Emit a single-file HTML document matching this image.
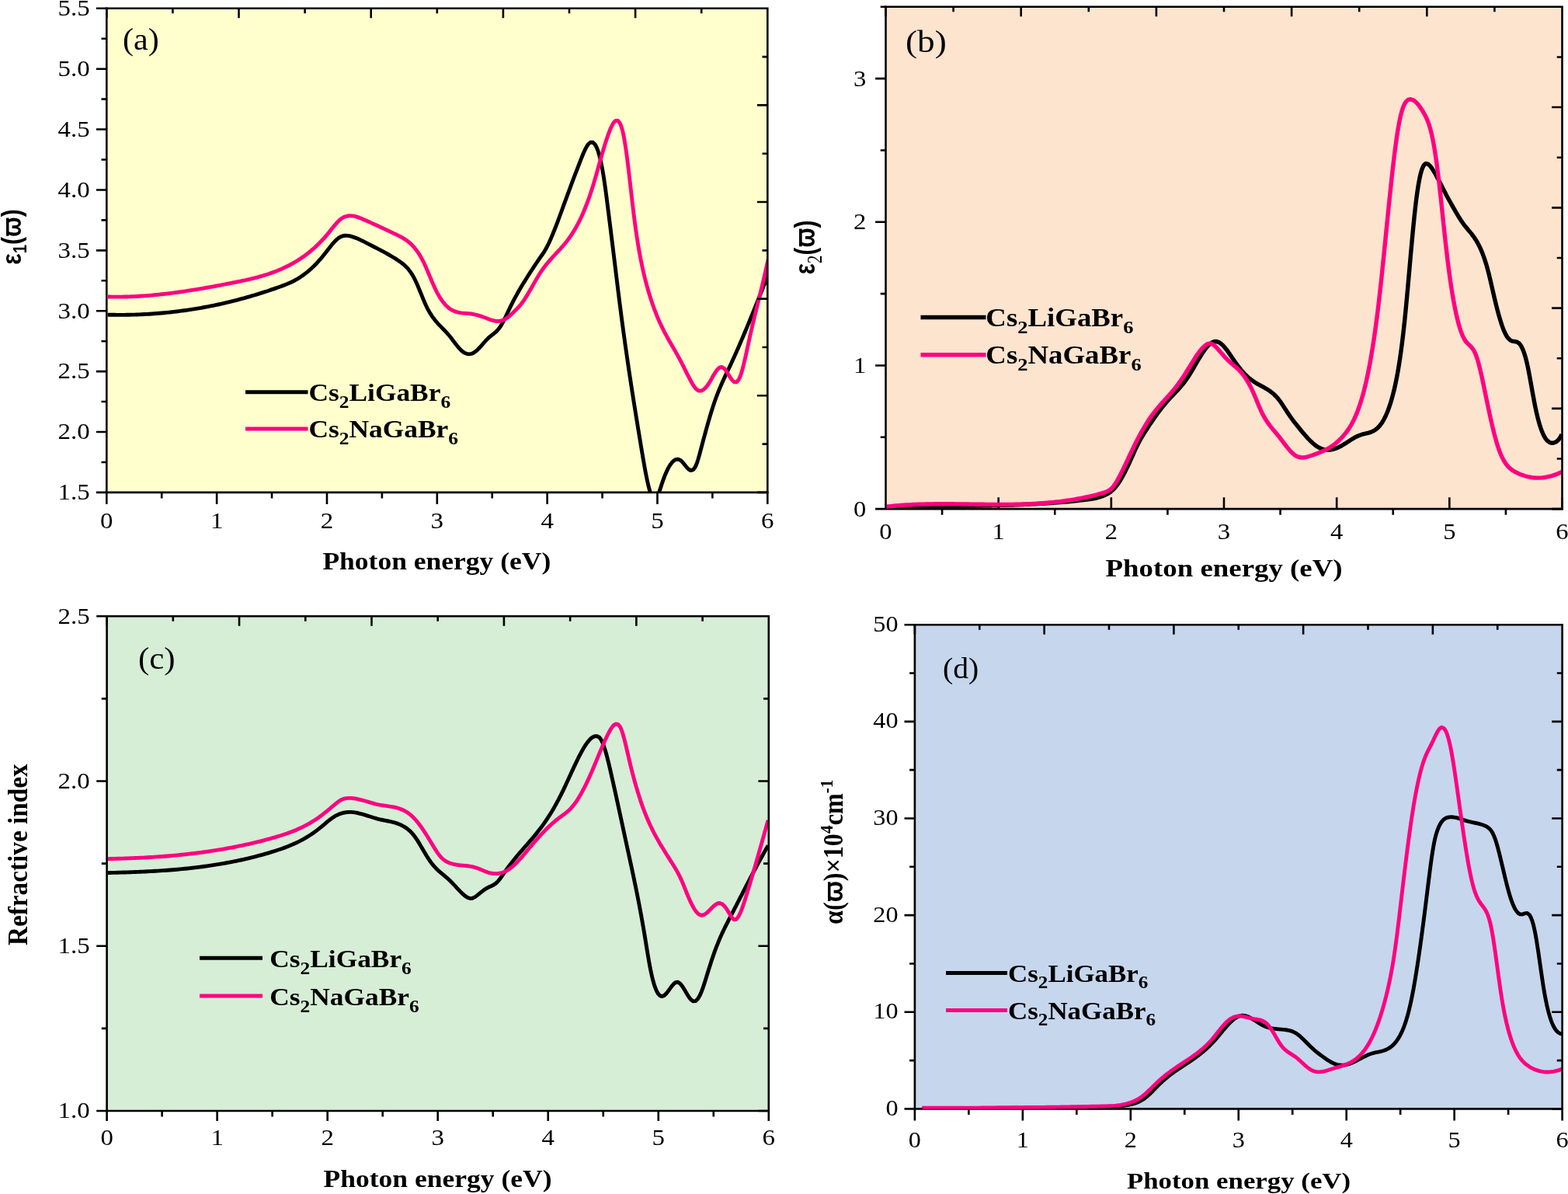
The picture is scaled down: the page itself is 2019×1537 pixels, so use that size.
<!DOCTYPE html>
<html lang="en"><head><meta charset="utf-8"><title>Optical properties</title>
<style>
html,body{margin:0;padding:0;background:#fff;}
body{width:2019px;height:1537px;overflow:hidden;}
svg{display:block;}
text{white-space:pre;fill:#000;}
</style></head><body>
<svg xmlns="http://www.w3.org/2000/svg" width="2019" height="1537" viewBox="0 0 2019 1537">
<rect width="2019" height="1537" fill="#fff"/>
<defs>
<clipPath id="cp_a"><rect x="138.6" y="10.8" width="849.7" height="623.4"/></clipPath>
<clipPath id="cp_b"><rect x="1141.8" y="8.8" width="869.7" height="646.65"/></clipPath>
<clipPath id="cp_c"><rect x="138.9" y="793.2" width="850.9" height="637.1"/></clipPath>
<clipPath id="cp_d"><rect x="1179.2" y="804.2" width="832.4" height="623.5"/></clipPath>
</defs>
<g id="panel-a">
<rect x="137.3" y="10.8" width="851" height="623.1" fill="#FFFFCD"/>
<path d="M137.3,9.5V633.9H989.6M137.3,633.9v15M208.22,633.9v7.5M279.13,633.9v15M350.05,633.9v7.5M420.97,633.9v15M491.88,633.9v7.5M562.8,633.9v15M633.72,633.9v7.5M704.63,633.9v15M775.55,633.9v7.5M846.47,633.9v15M917.38,633.9v7.5M988.3,633.9v15M137.3,633.9h-13.4M137.3,594.96h-6.8M137.3,556.01h-13.4M137.3,517.07h-6.8M137.3,478.12h-13.4M137.3,439.18h-6.8M137.3,400.24h-13.4M137.3,361.29h-6.8M137.3,322.35h-13.4M137.3,283.41h-6.8M137.3,244.46h-13.4M137.3,205.52h-6.8M137.3,166.57h-13.4M137.3,127.63h-6.8M137.3,88.69h-13.4M137.3,49.74h-6.8M137.3,10.8h-13.4" fill="none" stroke="#000" stroke-width="2.6"/>
<g clip-path="url(#cp_a)" fill="none" stroke-width="4.9" stroke-linejoin="round" stroke-linecap="butt">
<path stroke="#000" d="M137.75,405.14L140.95,405.22L144.15,405.28L147.35,405.32L150.55,405.35L153.75,405.36L156.95,405.36L160.15,405.34L163.35,405.3L166.55,405.25L169.75,405.17L172.95,405.09L176.14,404.98L179.34,404.86L182.54,404.72L185.74,404.57L188.93,404.39L192.13,404.2L195.32,404L198.51,403.78L201.7,403.53L204.9,403.28L208.08,403L211.27,402.71L214.46,402.4L217.64,402.08L220.82,401.74L224,401.38L227.18,401L230.36,400.6L233.53,400.19L236.71,399.77L239.88,399.32L243.05,398.86L246.21,398.38L249.37,397.88L252.53,397.37L255.69,396.84L258.84,396.29L262,395.72L265.14,395.14L268.29,394.54L271.43,393.93L274.57,393.3L277.71,392.65L280.84,391.98L283.97,391.3L287.09,390.6L290.21,389.88L293.33,389.15L296.44,388.4L299.55,387.63L302.65,386.85L305.76,386.05L308.85,385.24L311.94,384.41L315.03,383.56L318.12,382.69L321.19,381.81L324.27,380.92L327.34,380L330.4,379.08L333.46,378.13L336.52,377.18L339.57,376.2L342.62,375.21L345.66,374.21L348.7,373.19L351.73,372.16L354.75,371.11L357.77,370.05L360.79,368.97L363.8,367.88L366.8,366.74L369.79,365.55L372.75,364.29L375.67,362.94L378.56,361.49L381.39,359.94L384.17,358.3L386.9,356.57L389.58,354.75L392.19,352.85L394.75,350.87L397.26,348.82L399.7,346.7L402.09,344.51L404.43,342.27L406.71,339.97L408.93,337.62L411.1,335.22L413.23,332.77L415.3,330.29L417.33,327.76L419.31,325.22L421.27,322.68L423.22,320.15L425.18,317.65L427.17,315.19L429.21,312.8L431.34,310.51L433.57,308.37L435.96,306.43L438.55,304.84L441.41,303.75L444.5,303.26L447.7,303.37L450.88,303.95L453.99,304.83L457.04,305.88L460.04,307.06L462.99,308.35L465.91,309.72L468.79,311.14L471.65,312.59L474.49,314.07L477.33,315.54L480.18,317.01L483.02,318.47L485.87,319.93L488.71,321.41L491.55,322.9L494.38,324.41L497.2,325.94L500,327.51L502.78,329.11L505.55,330.75L508.29,332.43L511,334.16L513.68,335.93L516.34,337.78L518.93,339.76L521.41,341.91L523.76,344.24L525.96,346.73L527.99,349.37L529.87,352.12L531.6,354.95L533.21,357.86L534.7,360.82L536.09,363.8L537.42,366.78L538.69,369.77L539.93,372.75L541.15,375.73L542.36,378.7L543.56,381.65L544.77,384.59L546,387.51L547.26,390.4L548.56,393.25L549.92,396.06L551.35,398.82L552.86,401.53L554.47,404.2L556.16,406.8L557.96,409.34L559.86,411.82L561.85,414.23L563.94,416.58L566.09,418.89L568.31,421.16L570.55,423.44L572.8,425.74L575.02,428.09L577.18,430.52L579.27,433.03L581.28,435.59L583.23,438.15L585.16,440.7L587.1,443.22L589.06,445.69L591.09,448.08L593.21,450.33L595.49,452.39L597.97,454.12L600.74,455.34L603.8,455.84L607,455.39L610.07,454.03L612.82,452.07L615.3,449.83L617.59,447.48L619.77,445.06L621.89,442.64L623.99,440.24L626.11,437.9L628.29,435.65L630.58,433.57L633.02,431.62L635.56,429.69L638.1,427.62L640.5,425.29L642.68,422.69L644.61,419.88L646.32,417.02L647.9,414.12L649.39,411.21L650.83,408.3L652.22,405.39L653.59,402.49L654.96,399.6L656.33,396.73L657.72,393.88L659.14,391.05L660.58,388.22L662.06,385.42L663.56,382.62L665.08,379.84L666.64,377.07L668.21,374.31L669.81,371.57L671.43,368.83L673.08,366.1L674.73,363.39L676.41,360.67L678.1,357.97L679.79,355.27L681.5,352.58L683.23,349.89L684.96,347.22L686.71,344.56L688.47,341.9L690.25,339.25L692.04,336.62L693.85,333.99L695.67,331.38L697.51,328.77L699.35,326.1L701.13,323.33L702.81,320.48L704.37,317.57L705.85,314.65L707.26,311.7L708.61,308.73L709.91,305.75L711.18,302.77L712.41,299.78L713.62,296.78L714.8,293.78L715.96,290.77L717.11,287.76L718.25,284.76L719.37,281.75L720.49,278.74L721.6,275.73L722.71,272.73L723.81,269.72L724.92,266.72L726.02,263.71L727.13,260.71L728.23,257.71L729.34,254.71L730.44,251.71L731.55,248.71L732.66,245.71L733.77,242.71L734.88,239.71L735.99,236.72L737.11,233.72L738.23,230.73L739.36,227.74L740.49,224.75L741.62,221.77L742.76,218.78L743.9,215.8L745.05,212.82L746.2,209.85L747.36,206.88L748.53,203.91L749.71,200.97L750.92,198.06L752.16,195.2L753.48,192.39L754.88,189.68L756.43,187.12L758.21,184.83L760.4,183.16L763.33,183.18L766.22,185.99L768.01,189.24L769.35,192.5L770.46,195.76L771.43,199L772.29,202.25L773.08,205.49L773.8,208.72L774.48,211.96L775.12,215.19L775.72,218.42L776.29,221.64L776.85,224.97L777.41,228.45L777.97,232.09L778.53,235.89L779.09,239.82L779.65,243.87L780.21,248.03L780.77,252.28L781.33,256.6L781.89,260.98L782.45,265.4L783.01,269.84L783.57,274.3L784.13,278.75L784.69,283.22L785.25,287.68L785.81,292.16L786.37,296.64L786.93,301.12L787.49,305.62L788.05,310.12L788.61,314.64L789.17,319.17L789.73,323.71L790.29,328.27L790.85,332.84L791.41,337.41L791.97,341.99L792.53,346.58L793.09,351.16L793.65,355.74L794.21,360.31L794.77,364.87L795.33,369.41L795.89,373.93L796.45,378.44L797.01,382.92L797.57,387.37L798.13,391.78L798.69,396.17L799.25,400.51L799.81,404.82L800.37,409.09L800.93,413.33L801.49,417.53L802.05,421.69L802.61,425.83L803.17,429.93L803.73,433.99L804.29,438.03L804.85,442.04L805.41,446.01L805.97,449.96L806.53,453.88L807.09,457.77L807.65,461.63L808.21,465.47L808.77,469.28L809.33,473.07L809.89,476.83L810.45,480.57L811.01,484.28L811.57,487.98L812.13,491.65L812.69,495.3L813.25,498.94L813.81,502.55L814.37,506.15L814.93,509.72L815.49,513.28L816.05,516.83L816.61,520.36L817.17,523.87L817.73,527.37L818.29,530.86L818.85,534.34L819.41,537.8L819.97,541.25L820.53,544.69L821.09,548.13L821.65,551.55L822.21,554.97L822.77,558.37L823.33,561.77L823.89,565.17L824.45,568.56L825.01,571.94L825.57,575.32L826.13,578.69L826.69,582.05L827.25,585.38L827.81,588.68L828.37,591.94L828.93,595.16L829.49,598.33L830.05,601.45L830.62,604.57L831.2,607.68L831.8,610.78L832.41,613.87L833.05,616.94L833.71,620.01L834.4,623.05L835.12,626.07L835.9,629.06L836.73,632L837.64,634.88L838.67,637.64L839.89,640.21L841.47,642.27L843.93,642.37L846.48,638.69L847.89,635.46L849.08,632.31L850.15,629.2L851.18,626.13L852.18,623.09L853.19,620.09L854.22,617.14L855.31,614.21L856.45,611.32L857.66,608.46L858.94,605.64L860.31,602.89L861.8,600.22L863.44,597.67L865.26,595.29L867.35,593.2L869.8,591.64L872.74,591.12L875.93,592.29L878.6,594.69L880.76,597.25L882.75,599.78L884.74,602.16L886.89,604.23L889.4,605.52L892.53,604.63L895.02,601.46L896.6,598.15L897.82,594.86L898.84,591.63L899.75,588.45L900.62,585.31L901.45,582.19L902.27,579.1L903.1,576L903.92,572.91L904.75,569.83L905.57,566.74L906.4,563.65L907.23,560.57L908.07,557.49L908.91,554.42L909.76,551.35L910.61,548.28L911.48,545.21L912.35,542.15L913.23,539.1L914.13,536.05L915.04,533.01L915.96,529.98L916.9,526.95L917.86,523.94L918.85,520.94L919.85,517.95L920.89,514.97L921.96,512.01L923.07,509.05L924.2,506.11L925.37,503.18L926.57,500.26L927.81,497.35L929.07,494.45L930.36,491.56L931.68,488.67L933.02,485.79L934.38,482.91L935.74,480.02L937.12,477.14L938.5,474.24L939.87,471.34L941.23,468.43L942.58,465.51L943.92,462.59L945.25,459.67L946.57,456.74L947.88,453.81L949.18,450.87L950.47,447.93L951.75,444.99L953.02,442.04L954.29,439.1L955.55,436.15L956.81,433.19L958.05,430.24L959.3,427.28L960.53,424.32L961.77,421.36L962.99,418.4L964.22,415.44L965.44,412.48L966.65,409.51L967.86,406.54L969.07,403.58L970.28,400.61L971.48,397.64L972.68,394.67L973.88,391.7L975.08,388.73L976.27,385.76L977.47,382.79L978.66,379.82L979.85,376.85L981.04,373.88L982.23,370.91L983.42,367.94L984.62,364.97L985.81,362L987,359.03L988.19,356.06L989.39,353.1L990.58,350.13L991,349.1"/>
<path stroke="#FF0080" d="M137.75,381.94L140.95,382.02L144.15,382.08L147.35,382.11L150.55,382.13L153.75,382.11L156.95,382.08L160.15,382.02L163.35,381.95L166.55,381.85L169.74,381.73L172.94,381.59L176.14,381.43L179.33,381.25L182.53,381.05L185.72,380.83L188.91,380.59L192.1,380.34L195.29,380.07L198.48,379.78L201.67,379.47L204.85,379.15L208.03,378.81L211.21,378.46L214.39,378.09L217.57,377.71L220.75,377.31L223.92,376.9L227.1,376.48L230.27,376.05L233.44,375.6L236.6,375.14L239.77,374.66L242.93,374.18L246.1,373.69L249.26,373.18L252.42,372.67L255.57,372.14L258.73,371.61L261.88,371.07L265.04,370.51L268.19,369.95L271.34,369.39L274.49,368.81L277.63,368.23L280.78,367.64L283.93,367.05L287.07,366.45L290.21,365.84L293.35,365.23L296.49,364.62L299.63,364L302.77,363.38L305.91,362.74L309.05,362.1L312.18,361.45L315.31,360.78L318.44,360.09L321.56,359.37L324.68,358.63L327.79,357.86L330.89,357.06L333.98,356.22L337.07,355.35L340.14,354.44L343.2,353.48L346.25,352.48L349.28,351.43L352.3,350.34L355.3,349.19L358.28,348L361.24,346.75L364.17,345.45L367.09,344.09L369.98,342.68L372.84,341.22L375.67,339.7L378.48,338.12L381.25,336.49L384,334.8L386.71,333.06L389.38,331.26L392.01,329.4L394.61,327.48L397.16,325.51L399.67,323.49L402.14,321.41L404.57,319.28L406.95,317.09L409.29,314.87L411.58,312.59L413.83,310.27L416.04,307.91L418.21,305.51L420.33,303.08L422.41,300.6L424.45,298.1L426.45,295.59L428.45,293.09L430.45,290.63L432.49,288.23L434.6,285.91L436.8,283.72L439.15,281.74L441.7,280.07L444.5,278.8L447.51,278.01L450.66,277.71L453.86,277.89L457.04,278.46L460.15,279.34L463.2,280.42L466.18,281.64L469.13,282.93L472.05,284.23L474.97,285.54L477.89,286.86L480.81,288.18L483.72,289.51L486.63,290.84L489.54,292.18L492.44,293.53L495.34,294.88L498.24,296.24L501.14,297.61L504.03,298.98L506.92,300.36L509.81,301.74L512.69,303.14L515.56,304.59L518.4,306.15L521.17,307.84L523.86,309.68L526.45,311.69L528.91,313.86L531.25,316.18L533.46,318.63L535.53,321.19L537.49,323.85L539.32,326.58L541.06,329.38L542.69,332.24L544.24,335.14L545.71,338.07L547.1,341.03L548.44,344L549.74,346.96L551,349.93L552.25,352.9L553.49,355.85L554.72,358.8L555.96,361.74L557.21,364.65L558.48,367.55L559.79,370.41L561.14,373.24L562.55,376.03L564.02,378.78L565.58,381.48L567.22,384.12L568.95,386.7L570.8,389.18L572.77,391.56L574.89,393.8L577.17,395.88L579.62,397.74L582.27,399.34L585.09,400.65L588.07,401.64L591.15,402.36L594.29,402.83L597.47,403.14L600.66,403.38L603.85,403.64L607.04,404.02L610.2,404.58L613.34,405.3L616.44,406.16L619.51,407.13L622.54,408.19L625.55,409.31L628.54,410.47L631.53,411.56L634.55,412.51L637.64,413.2L640.79,413.51L643.99,413.3L647.15,412.45L650.14,411.02L652.92,409.21L655.52,407.2L657.98,405.05L660.35,402.83L662.65,400.57L664.92,398.29L667.16,395.94L669.33,393.5L671.41,390.94L673.36,388.29L675.21,385.59L676.98,382.85L678.69,380.09L680.35,377.32L681.98,374.53L683.58,371.74L685.17,368.96L686.75,366.17L688.33,363.4L689.92,360.64L691.53,357.9L693.16,355.19L694.83,352.5L696.55,349.87L698.32,347.27L700.16,344.72L702.06,342.21L704.02,339.74L706.04,337.31L708.11,334.91L710.22,332.54L712.37,330.2L714.54,327.86L716.72,325.53L718.91,323.19L721.09,320.83L723.25,318.43L725.38,316L727.46,313.52L729.49,310.99L731.47,308.42L733.39,305.79L735.24,303.12L737.04,300.4L738.77,297.64L740.45,294.85L742.06,292.03L743.63,289.17L745.13,286.29L746.59,283.38L748,280.45L749.37,277.5L750.69,274.53L751.97,271.54L753.21,268.54L754.42,265.52L755.59,262.5L756.73,259.46L757.84,256.41L758.92,253.35L759.97,250.29L760.99,247.21L761.99,244.13L762.97,241.04L763.92,237.95L764.85,234.86L765.76,231.76L766.66,228.67L767.55,225.58L768.43,222.49L769.31,219.4L770.17,216.31L771.04,213.23L771.9,210.15L772.77,207.08L773.64,204L774.51,200.94L775.39,197.88L776.28,194.82L777.18,191.77L778.09,188.74L779.02,185.71L779.97,182.69L780.94,179.69L781.94,176.71L782.98,173.75L784.06,170.82L785.2,167.92L786.4,165.07L787.68,162.28L789.09,159.63L790.7,157.21L792.68,155.33L795.41,155.15L798.25,158.6L799.71,162.05L800.79,165.42L801.68,168.74L802.45,172.05L803.14,175.34L803.76,178.62L804.34,181.89L804.9,185.3L805.46,188.92L806.02,192.74L806.58,196.73L807.14,200.88L807.7,205.18L808.26,209.6L808.82,214.14L809.38,218.78L809.94,223.49L810.5,228.28L811.06,233.11L811.62,237.97L812.18,242.85L812.74,247.73L813.3,252.6L813.86,257.44L814.42,262.23L814.98,266.96L815.54,271.6L816.1,276.16L816.66,280.6L817.22,284.92L817.78,289.12L818.34,293.2L818.9,297.17L819.46,301.02L820.02,304.77L820.58,308.41L821.14,311.94L821.7,315.38L822.26,318.72L822.82,321.96L823.38,325.11L823.94,328.22L824.53,331.32L825.13,334.42L825.75,337.51L826.38,340.6L827.04,343.68L827.71,346.76L828.41,349.83L829.12,352.9L829.86,355.97L830.62,359.03L831.41,362.08L832.21,365.13L833.04,368.18L833.89,371.22L834.77,374.26L835.66,377.29L836.58,380.31L837.52,383.32L838.49,386.33L839.49,389.32L840.51,392.31L841.57,395.28L842.65,398.24L843.77,401.19L844.92,404.12L846.11,407.05L847.33,409.95L848.58,412.85L849.88,415.72L851.21,418.58L852.57,421.43L853.98,424.26L855.42,427.08L856.89,429.88L858.4,432.67L859.93,435.45L861.49,438.22L863.06,440.99L864.66,443.75L866.26,446.52L867.86,449.29L869.46,452.07L871.05,454.86L872.63,457.67L874.18,460.5L875.71,463.34L877.21,466.21L878.68,469.08L880.13,471.95L881.56,474.83L882.99,477.69L884.41,480.54L885.85,483.38L887.31,486.2L888.79,488.99L890.31,491.75L891.88,494.46L893.52,497.09L895.29,499.53L897.3,501.61L899.78,503L902.83,503.08L905.94,501.52L908.51,499.15L910.67,496.5L912.57,493.74L914.31,490.92L915.94,488.11L917.53,485.31L919.11,482.57L920.73,479.9L922.44,477.35L924.31,475.03L926.48,473.14L929.19,472.38L932.37,474.17L934.66,476.91L936.53,479.71L938.25,482.47L939.91,485.18L941.62,487.75L943.48,490.07L945.66,491.84L948.5,491.91L951.34,488.57L952.85,485.22L954.02,481.97L955.02,478.75L955.94,475.55L956.78,472.37L957.58,469.19L958.35,466.02L959.09,462.86L959.81,459.71L960.51,456.56L961.2,453.41L961.88,450.27L962.56,447.14L963.24,444.01L963.91,440.89L964.59,437.78L965.28,434.67L965.97,431.56L966.67,428.46L967.38,425.36L968.1,422.26L968.83,419.16L969.56,416.05L970.3,412.95L971.04,409.85L971.79,406.75L972.55,403.65L973.3,400.55L974.06,397.45L974.83,394.35L975.59,391.24L976.36,388.13L977.13,385.03L977.89,381.92L978.66,378.81L979.42,375.69L980.18,372.58L980.94,369.46L981.69,366.34L982.44,363.21L983.18,360.09L983.92,356.96L984.65,353.83L985.37,350.7L986.09,347.57L986.8,344.44L987.51,341.31L988.21,338.18L988.91,335.05L989.61,331.93L990.31,328.8L991,325.72"/>
</g>
<path d="M136,10.8H988.3V635.2M137.3,10.8v12.5M222.4,10.8v6.5M307.5,10.8v12.5M392.6,10.8v6.5M477.7,10.8v12.5M562.8,10.8v6.5M647.9,10.8v12.5M733,10.8v6.5M818.1,10.8v12.5M903.2,10.8v6.5M988.3,10.8v12.5M988.3,633.9h-13.4M988.3,571.59h-6.8M988.3,509.28h-13.4M988.3,446.97h-6.8M988.3,384.66h-13.4M988.3,322.35h-6.8M988.3,260.04h-13.4M988.3,197.73h-6.8M988.3,135.42h-13.4M988.3,73.11h-6.8M988.3,10.8h-13.4" fill="none" stroke="#000" stroke-width="2.6"/>
<text transform="translate(115.6,643.2) scale(1.082,1)" font-family="'Liberation Serif', serif" font-size="30.4" text-anchor="end">1.5</text>
<text transform="translate(115.6,565.31) scale(1.082,1)" font-family="'Liberation Serif', serif" font-size="30.4" text-anchor="end">2.0</text>
<text transform="translate(115.6,487.43) scale(1.082,1)" font-family="'Liberation Serif', serif" font-size="30.4" text-anchor="end">2.5</text>
<text transform="translate(115.6,409.54) scale(1.082,1)" font-family="'Liberation Serif', serif" font-size="30.4" text-anchor="end">3.0</text>
<text transform="translate(115.6,331.65) scale(1.082,1)" font-family="'Liberation Serif', serif" font-size="30.4" text-anchor="end">3.5</text>
<text transform="translate(115.6,253.76) scale(1.082,1)" font-family="'Liberation Serif', serif" font-size="30.4" text-anchor="end">4.0</text>
<text transform="translate(115.6,175.87) scale(1.082,1)" font-family="'Liberation Serif', serif" font-size="30.4" text-anchor="end">4.5</text>
<text transform="translate(115.6,97.99) scale(1.082,1)" font-family="'Liberation Serif', serif" font-size="30.4" text-anchor="end">5.0</text>
<text transform="translate(115.6,20.1) scale(1.082,1)" font-family="'Liberation Serif', serif" font-size="30.4" text-anchor="end">5.5</text>
<text transform="translate(137.3,680.3) scale(1.082,1)" font-family="'Liberation Serif', serif" font-size="30.4" text-anchor="middle">0</text>
<text transform="translate(279.13,680.3) scale(1.082,1)" font-family="'Liberation Serif', serif" font-size="30.4" text-anchor="middle">1</text>
<text transform="translate(420.97,680.3) scale(1.082,1)" font-family="'Liberation Serif', serif" font-size="30.4" text-anchor="middle">2</text>
<text transform="translate(562.8,680.3) scale(1.082,1)" font-family="'Liberation Serif', serif" font-size="30.4" text-anchor="middle">3</text>
<text transform="translate(704.63,680.3) scale(1.082,1)" font-family="'Liberation Serif', serif" font-size="30.4" text-anchor="middle">4</text>
<text transform="translate(846.47,680.3) scale(1.082,1)" font-family="'Liberation Serif', serif" font-size="30.4" text-anchor="middle">5</text>
<text transform="translate(988.3,680.3) scale(1.082,1)" font-family="'Liberation Serif', serif" font-size="30.4" text-anchor="middle">6</text>
<text transform="translate(415.4,732.75) scale(1.1455,1)" font-family="'Liberation Serif', serif" font-size="31" font-weight="bold">Photon energy (eV)</text>
<text transform="translate(158,64) scale(1.07,1)" font-family="'Liberation Serif', serif" font-size="39.4">(a)</text>
<path d="M316,504.75H396.5" stroke="#000" stroke-width="5" fill="none"/>
<path d="M316,552H396.5" stroke="#FF0080" stroke-width="5" fill="none"/>
<text transform="translate(397.5,515.9) scale(1.105,1)" font-family="'Liberation Serif', serif" font-size="32" font-weight="bold">Cs<tspan dy="8.96" font-size="23.04">2</tspan><tspan dy="-8.96">LiGaBr</tspan><tspan dy="8.96" font-size="23.04">6</tspan></text>
<text transform="translate(397.5,563.2) scale(1.105,1)" font-family="'Liberation Serif', serif" font-size="32" font-weight="bold">Cs<tspan dy="8.96" font-size="23.04">2</tspan><tspan dy="-8.96">NaGaBr</tspan><tspan dy="8.96" font-size="23.04">6</tspan></text>
<text transform="translate(27,340.75) rotate(-90) scale(0.848,1)" font-family="'Liberation Sans', sans-serif" font-size="35.8" font-weight="bold">ε<tspan dy="7" font-size="24">1</tspan><tspan dy="-7">(ϖ)</tspan></text>
</g>
<g id="panel-b">
<rect x="1140.5" y="8.8" width="871" height="646.35" fill="#FDE4CF"/>
<path d="M1140.5,7.5V655.15H2012.8M1140.5,655.15v-15M1213.08,655.15v7.5M1285.67,655.15v-15M1358.25,655.15v7.5M1430.83,655.15v-15M1503.42,655.15v7.5M1576,655.15v-15M1648.58,655.15v7.5M1721.17,655.15v-15M1793.75,655.15v7.5M1866.33,655.15v-15M1938.92,655.15v7.5M2011.5,655.15v-15M1140.5,655.15h-13.4M1140.5,562.81h-6.8M1140.5,470.48h-13.4M1140.5,378.14h-6.8M1140.5,285.81h-13.4M1140.5,193.48h-6.8M1140.5,101.14h-13.4M1140.5,8.81h-6.8" fill="none" stroke="#000" stroke-width="2.6"/>
<g clip-path="url(#cp_b)" fill="none" stroke-width="5.4" stroke-linejoin="round" stroke-linecap="butt">
<path stroke="#000" d="M1141,653L1144.2,652.9L1147.4,652.8L1150.6,652.7L1153.79,652.61L1156.99,652.53L1160.19,652.45L1163.39,652.37L1166.59,652.3L1169.79,652.23L1172.99,652.17L1176.19,652.11L1179.39,652.05L1182.59,652L1185.79,651.95L1188.99,651.9L1192.19,651.85L1195.39,651.81L1198.58,651.76L1201.78,651.72L1204.98,651.68L1208.18,651.64L1211.38,651.61L1214.58,651.57L1217.78,651.53L1220.98,651.5L1224.18,651.46L1227.38,651.42L1230.58,651.39L1233.78,651.35L1236.98,651.31L1240.18,651.27L1243.38,651.23L1246.58,651.19L1249.78,651.15L1252.98,651.1L1256.18,651.06L1259.38,651.01L1262.58,650.96L1265.78,650.9L1268.98,650.84L1272.18,650.78L1275.38,650.72L1278.58,650.65L1281.78,650.58L1284.98,650.5L1288.17,650.42L1291.37,650.34L1294.57,650.25L1297.77,650.15L1300.97,650.05L1304.17,649.94L1307.37,649.83L1310.56,649.72L1313.76,649.59L1316.96,649.46L1320.16,649.33L1323.35,649.19L1326.55,649.04L1329.75,648.88L1332.94,648.72L1336.14,648.54L1339.33,648.37L1342.53,648.18L1345.72,647.98L1348.92,647.78L1352.11,647.56L1355.3,647.34L1358.49,647.11L1361.69,646.87L1364.88,646.62L1368.07,646.36L1371.25,646.09L1374.44,645.81L1377.63,645.51L1380.81,645.2L1384,644.87L1387.18,644.54L1390.36,644.18L1393.54,643.81L1396.72,643.42L1399.89,643.01L1403.07,642.58L1406.24,642.1L1409.39,641.53L1412.53,640.84L1415.64,640.01L1418.71,639.01L1421.72,637.82L1424.66,636.43L1427.5,634.81L1430.21,632.93L1432.75,630.79L1435.1,628.42L1437.26,625.87L1439.24,623.21L1441.09,620.48L1442.83,617.7L1444.49,614.88L1446.08,612.03L1447.61,609.16L1449.1,606.28L1450.54,603.38L1451.95,600.46L1453.33,597.54L1454.68,594.61L1456.01,591.68L1457.33,588.75L1458.63,585.82L1459.94,582.91L1461.25,580.01L1462.57,577.13L1463.93,574.27L1465.32,571.45L1466.76,568.67L1468.27,565.92L1469.83,563.2L1471.45,560.49L1473.12,557.81L1474.83,555.13L1476.56,552.46L1478.31,549.79L1480.07,547.13L1481.84,544.49L1483.63,541.86L1485.44,539.24L1487.27,536.63L1489.12,534.05L1491,531.48L1492.9,528.93L1494.82,526.41L1496.78,523.91L1498.77,521.45L1500.8,519.01L1502.87,516.61L1504.98,514.25L1507.13,511.92L1509.32,509.6L1511.53,507.29L1513.74,504.97L1515.94,502.63L1518.12,500.25L1520.26,497.82L1522.35,495.34L1524.38,492.8L1526.34,490.2L1528.23,487.54L1530.05,484.82L1531.8,482.08L1533.49,479.32L1535.15,476.55L1536.77,473.77L1538.38,470.99L1539.99,468.22L1541.59,465.46L1543.2,462.72L1544.84,460L1546.5,457.31L1548.2,454.66L1549.96,452.06L1551.79,449.53L1553.72,447.1L1555.77,444.81L1558,442.72L1560.45,440.97L1563.21,439.77L1566.3,439.56L1569.47,440.6L1572.32,442.5L1574.81,444.79L1577.04,447.26L1579.1,449.84L1581.05,452.46L1582.92,455.11L1584.75,457.77L1586.55,460.42L1588.34,463.06L1590.15,465.67L1591.99,468.25L1593.87,470.79L1595.79,473.3L1597.76,475.76L1599.79,478.17L1601.89,480.51L1604.07,482.77L1606.33,484.93L1608.7,486.98L1611.16,488.93L1613.72,490.77L1616.36,492.5L1619.07,494.13L1621.84,495.68L1624.65,497.18L1627.48,498.7L1630.29,500.28L1633.05,501.97L1635.74,503.8L1638.34,505.8L1640.81,507.97L1643.14,510.3L1645.33,512.78L1647.39,515.37L1649.32,518.02L1651.15,520.71L1652.93,523.41L1654.67,526.11L1656.41,528.8L1658.15,531.46L1659.91,534.08L1661.72,536.68L1663.57,539.24L1665.47,541.78L1667.4,544.3L1669.36,546.79L1671.36,549.27L1673.37,551.74L1675.4,554.21L1677.44,556.66L1679.5,559.08L1681.58,561.47L1683.7,563.83L1685.87,566.12L1688.1,568.35L1690.4,570.49L1692.79,572.51L1695.29,574.37L1697.92,576.03L1700.71,577.4L1703.66,578.42L1706.74,579.05L1709.92,579.25L1713.12,579.03L1716.29,578.43L1719.39,577.5L1722.41,576.29L1725.34,574.88L1728.18,573.31L1730.94,571.65L1733.66,569.93L1736.36,568.19L1739.05,566.47L1741.75,564.8L1744.49,563.21L1747.29,561.75L1750.17,560.47L1753.14,559.44L1756.21,558.63L1759.32,557.9L1762.44,557.11L1765.51,556.09L1768.5,554.73L1771.32,552.96L1773.91,550.81L1776.25,548.37L1778.33,545.71L1780.21,542.91L1781.89,540.01L1783.43,537.04L1784.84,534.02L1786.14,530.97L1787.35,527.89L1788.48,524.79L1789.54,521.67L1790.55,518.55L1791.5,515.41L1792.41,512.26L1793.27,509.1L1794.1,505.93L1794.89,502.75L1795.64,499.57L1796.36,496.38L1797.05,493.18L1797.71,489.99L1798.35,486.79L1798.96,483.58L1799.55,480.38L1800.11,477.17L1800.67,473.9L1801.23,470.5L1801.79,466.99L1802.35,463.35L1802.91,459.59L1803.47,455.69L1804.03,451.66L1804.59,447.49L1805.15,443.18L1805.71,438.73L1806.27,434.12L1806.83,429.36L1807.39,424.45L1807.95,419.38L1808.51,414.15L1809.07,408.75L1809.63,403.18L1810.19,397.46L1810.75,391.61L1811.31,385.64L1811.87,379.57L1812.43,373.42L1812.99,367.19L1813.55,360.92L1814.11,354.6L1814.67,348.27L1815.23,341.94L1815.79,335.62L1816.35,329.33L1816.91,323.08L1817.47,316.9L1818.03,310.79L1818.59,304.77L1819.15,298.85L1819.71,293.06L1820.27,287.39L1820.83,281.87L1821.39,276.51L1821.95,271.33L1822.51,266.34L1823.07,261.54L1823.63,256.97L1824.19,252.63L1824.75,248.52L1825.31,244.66L1825.87,241.02L1826.43,237.61L1826.99,234.43L1827.57,231.4L1828.18,228.39L1828.85,225.41L1829.59,222.47L1830.42,219.6L1831.37,216.83L1832.51,214.22L1833.97,211.94L1836.02,210.46L1839.11,211.27L1841.69,213.89L1843.69,216.61L1845.5,219.39L1847.2,222.2L1848.81,225.04L1850.36,227.89L1851.87,230.75L1853.34,233.62L1854.8,236.48L1856.25,239.34L1857.7,242.18L1859.15,245.01L1860.63,247.83L1862.12,250.64L1863.63,253.43L1865.16,256.23L1866.71,259.01L1868.27,261.79L1869.84,264.57L1871.42,267.35L1873,270.12L1874.59,272.88L1876.2,275.62L1877.83,278.34L1879.49,281.03L1881.2,283.68L1882.96,286.28L1884.79,288.81L1886.71,291.29L1888.71,293.74L1890.75,296.18L1892.81,298.64L1894.85,301.15L1896.84,303.74L1898.74,306.42L1900.55,309.17L1902.25,312.01L1903.84,314.92L1905.32,317.88L1906.7,320.88L1908,323.92L1909.21,326.99L1910.36,330.08L1911.44,333.18L1912.46,336.3L1913.44,339.43L1914.37,342.57L1915.25,345.72L1916.1,348.87L1916.92,352.03L1917.7,355.19L1918.46,358.34L1919.2,361.48L1919.93,364.62L1920.65,367.75L1921.36,370.88L1922.08,374L1922.79,377.11L1923.5,380.22L1924.22,383.31L1924.96,386.4L1925.7,389.49L1926.46,392.56L1927.23,395.63L1928.02,398.69L1928.83,401.75L1929.66,404.79L1930.52,407.82L1931.4,410.83L1932.32,413.83L1933.28,416.8L1934.29,419.75L1935.35,422.66L1936.49,425.52L1937.72,428.31L1939.08,431L1940.62,433.54L1942.4,435.86L1944.54,437.81L1947.15,439.07L1950.23,439.53L1953.42,440.17L1956.4,442.27L1958.59,445.27L1960.21,448.43L1961.54,451.63L1962.68,454.84L1963.69,458.06L1964.59,461.28L1965.43,464.5L1966.2,467.72L1966.92,470.94L1967.59,474.15L1968.24,477.35L1968.86,480.54L1969.46,483.72L1970.05,486.9L1970.63,490.07L1971.2,493.23L1971.77,496.39L1972.33,499.55L1972.89,502.69L1973.46,505.83L1974.02,508.97L1974.6,512.09L1975.18,515.21L1975.77,518.32L1976.38,521.41L1977,524.49L1977.65,527.56L1978.33,530.62L1979.03,533.67L1979.77,536.71L1980.54,539.74L1981.35,542.74L1982.21,545.72L1983.12,548.68L1984.1,551.61L1985.15,554.49L1986.29,557.32L1987.55,560.07L1988.97,562.7L1990.59,565.18L1992.49,567.4L1994.77,569.18L1997.53,570.2L2000.68,570.1L2003.81,568.79L2006.49,566.42L2008.61,563.55L2010.32,560.5L2011,559.1"/>
<path stroke="#FF0080" d="M1141.25,652.25L1144.43,651.9L1147.61,651.58L1150.8,651.27L1153.98,650.98L1157.17,650.72L1160.36,650.48L1163.55,650.25L1166.74,650.05L1169.94,649.86L1173.13,649.69L1176.33,649.54L1179.53,649.4L1182.72,649.28L1185.92,649.17L1189.12,649.08L1192.32,649L1195.52,648.93L1198.72,648.88L1201.92,648.84L1205.12,648.81L1208.32,648.78L1211.52,648.77L1214.72,648.77L1217.92,648.77L1221.12,648.78L1224.32,648.8L1227.52,648.82L1230.72,648.85L1233.92,648.88L1237.12,648.92L1240.32,648.96L1243.52,649L1246.72,649.05L1249.91,649.09L1253.11,649.14L1256.31,649.18L1259.51,649.23L1262.71,649.27L1265.91,649.31L1269.11,649.34L1272.31,649.38L1275.51,649.4L1278.71,649.43L1281.91,649.44L1285.11,649.45L1288.31,649.46L1291.51,649.45L1294.71,649.44L1297.91,649.42L1301.11,649.38L1304.31,649.34L1307.51,649.29L1310.71,649.22L1313.91,649.14L1317.11,649.04L1320.31,648.94L1323.51,648.81L1326.7,648.68L1329.9,648.52L1333.1,648.35L1336.29,648.16L1339.48,647.96L1342.68,647.73L1345.87,647.48L1349.06,647.22L1352.25,646.93L1355.43,646.62L1358.62,646.29L1361.8,645.94L1364.98,645.57L1368.15,645.17L1371.33,644.74L1374.5,644.29L1377.66,643.82L1380.83,643.32L1383.99,642.79L1387.14,642.24L1390.29,641.65L1393.43,641.04L1396.57,640.4L1399.7,639.74L1402.83,639.04L1405.95,638.31L1409.06,637.56L1412.17,636.77L1415.27,635.95L1418.36,635.1L1421.44,634.22L1424.5,633.16L1427.47,631.7L1430.22,629.73L1432.66,627.31L1434.76,624.63L1436.63,621.85L1438.34,619.03L1439.95,616.17L1441.49,613.3L1442.98,610.43L1444.43,607.54L1445.86,604.65L1447.27,601.76L1448.66,598.86L1450.04,595.96L1451.41,593.06L1452.77,590.16L1454.13,587.26L1455.49,584.37L1456.86,581.48L1458.23,578.6L1459.61,575.73L1461,572.87L1462.41,570.02L1463.84,567.19L1465.3,564.37L1466.78,561.57L1468.28,558.77L1469.82,556L1471.38,553.24L1472.98,550.51L1474.6,547.79L1476.26,545.1L1477.96,542.43L1479.7,539.79L1481.48,537.18L1483.31,534.6L1485.18,532.06L1487.11,529.56L1489.09,527.09L1491.11,524.65L1493.18,522.25L1495.28,519.86L1497.41,517.49L1499.55,515.13L1501.71,512.77L1503.86,510.39L1506.01,508L1508.13,505.57L1510.22,503.12L1512.28,500.62L1514.29,498.08L1516.26,495.51L1518.17,492.9L1520.04,490.26L1521.88,487.6L1523.68,484.92L1525.45,482.22L1527.19,479.51L1528.9,476.78L1530.6,474.05L1532.27,471.31L1533.94,468.58L1535.62,465.87L1537.3,463.17L1539.01,460.5L1540.75,457.86L1542.54,455.27L1544.39,452.74L1546.32,450.3L1548.36,447.97L1550.54,445.81L1552.92,443.91L1555.56,442.5L1558.56,442.09L1561.74,443.32L1564.45,445.46L1566.8,447.82L1568.98,450.23L1571.1,452.66L1573.2,455.08L1575.29,457.49L1577.4,459.86L1579.55,462.16L1581.77,464.37L1584.09,466.48L1586.51,468.52L1588.97,470.56L1591.43,472.64L1593.85,474.83L1596.16,477.16L1598.36,479.61L1600.43,482.16L1602.4,484.8L1604.25,487.52L1606.01,490.3L1607.68,493.12L1609.26,496L1610.77,498.91L1612.2,501.85L1613.58,504.82L1614.89,507.81L1616.16,510.8L1617.39,513.78L1618.6,516.75L1619.81,519.7L1621.03,522.63L1622.28,525.53L1623.55,528.4L1624.88,531.22L1626.29,533.99L1627.78,536.72L1629.35,539.41L1631.01,542.04L1632.77,544.62L1634.61,547.15L1636.54,549.63L1638.53,552.08L1640.58,554.51L1642.65,556.94L1644.72,559.4L1646.77,561.91L1648.77,564.46L1650.72,567.02L1652.65,569.58L1654.57,572.13L1656.51,574.64L1658.49,577.11L1660.51,579.5L1662.62,581.8L1664.85,583.95L1667.23,585.88L1669.83,587.46L1672.7,588.54L1675.8,589.03L1678.99,588.93L1682.17,588.38L1685.29,587.52L1688.35,586.52L1691.37,585.48L1694.4,584.4L1697.4,583.28L1700.39,582.09L1703.35,580.81L1706.26,579.42L1709.12,577.92L1711.93,576.29L1714.66,574.54L1717.31,572.67L1719.88,570.67L1722.36,568.55L1724.75,566.33L1727.05,564.01L1729.25,561.6L1731.37,559.12L1733.41,556.56L1735.35,553.92L1737.2,551.19L1738.95,548.4L1740.59,545.55L1742.15,542.64L1743.61,539.69L1744.99,536.7L1746.29,533.68L1747.53,530.63L1748.7,527.57L1749.81,524.49L1750.87,521.39L1751.89,518.28L1752.86,515.16L1753.79,512.03L1754.69,508.89L1755.55,505.75L1756.38,502.6L1757.18,499.44L1757.95,496.28L1758.7,493.12L1759.43,489.95L1760.13,486.78L1760.81,483.6L1761.47,480.42L1762.11,477.25L1762.74,474.06L1763.35,470.88L1763.95,467.7L1764.53,464.51L1765.09,461.32L1765.65,458.1L1766.21,454.8L1766.77,451.43L1767.33,447.97L1767.89,444.44L1768.45,440.83L1769.01,437.13L1769.57,433.35L1770.13,429.49L1770.69,425.54L1771.25,421.51L1771.81,417.38L1772.37,413.17L1772.93,408.87L1773.49,404.48L1774.05,399.99L1774.61,395.41L1775.17,390.74L1775.73,385.97L1776.29,381.1L1776.85,376.14L1777.41,371.1L1777.97,365.98L1778.53,360.78L1779.09,355.51L1779.65,350.19L1780.21,344.81L1780.77,339.38L1781.33,333.9L1781.89,328.39L1782.45,322.85L1783.01,317.28L1783.57,311.69L1784.13,306.09L1784.69,300.48L1785.25,294.87L1785.81,289.27L1786.37,283.67L1786.93,278.09L1787.49,272.54L1788.05,267.01L1788.61,261.52L1789.17,256.07L1789.73,250.66L1790.29,245.31L1790.85,240.01L1791.41,234.78L1791.97,229.63L1792.53,224.54L1793.09,219.54L1793.65,214.63L1794.21,209.82L1794.77,205.1L1795.33,200.49L1795.89,196L1796.45,191.62L1797.01,187.37L1797.57,183.25L1798.13,179.26L1798.69,175.42L1799.25,171.73L1799.81,168.19L1800.37,164.81L1800.93,161.6L1801.5,158.54L1802.1,155.49L1802.73,152.47L1803.41,149.47L1804.15,146.49L1804.96,143.55L1805.84,140.66L1806.84,137.83L1807.98,135.11L1809.32,132.54L1810.96,130.25L1813.08,128.47L1815.87,127.75L1819.07,128.51L1821.98,130.37L1824.46,132.72L1826.64,135.28L1828.62,137.96L1830.45,140.7L1832.18,143.49L1833.83,146.3L1835.42,149.21L1836.88,152.24L1838.21,155.34L1839.4,158.5L1840.46,161.7L1841.42,164.92L1842.3,168.15L1843.1,171.38L1843.84,174.61L1844.52,177.84L1845.17,181.07L1845.78,184.29L1846.37,187.52L1846.93,190.76L1847.49,194.15L1848.05,197.68L1848.61,201.36L1849.17,205.18L1849.73,209.14L1850.29,213.26L1850.85,217.52L1851.41,221.92L1851.97,226.48L1852.53,231.16L1853.09,235.96L1853.65,240.87L1854.21,245.87L1854.77,250.95L1855.33,256.1L1855.89,261.3L1856.45,266.55L1857.01,271.83L1857.57,277.12L1858.13,282.42L1858.69,287.71L1859.25,292.98L1859.81,298.21L1860.37,303.4L1860.93,308.53L1861.49,313.58L1862.05,318.55L1862.61,323.43L1863.17,328.19L1863.73,332.84L1864.29,337.38L1864.85,341.81L1865.41,346.13L1865.97,350.34L1866.53,354.44L1867.09,358.44L1867.65,362.33L1868.21,366.11L1868.77,369.79L1869.33,373.37L1869.89,376.84L1870.45,380.21L1871.01,383.49L1871.57,386.66L1872.13,389.76L1872.71,392.85L1873.31,395.94L1873.94,399.02L1874.58,402.09L1875.25,405.16L1875.95,408.21L1876.68,411.25L1877.45,414.27L1878.26,417.28L1879.11,420.26L1880.02,423.22L1881,426.14L1882.05,429.02L1883.2,431.84L1884.47,434.58L1885.9,437.2L1887.54,439.63L1889.49,441.88L1891.71,444.02L1894.07,446.28L1896.28,448.93L1898.15,451.92L1899.68,455.09L1900.95,458.32L1902.03,461.54L1903,464.73L1903.89,467.92L1904.73,471.1L1905.52,474.27L1906.28,477.44L1907.01,480.6L1907.73,483.76L1908.42,486.92L1909.1,490.08L1909.77,493.23L1910.43,496.38L1911.09,499.52L1911.74,502.67L1912.38,505.8L1913.03,508.94L1913.67,512.07L1914.32,515.2L1914.97,518.32L1915.62,521.44L1916.28,524.56L1916.95,527.68L1917.62,530.79L1918.29,533.9L1918.98,537L1919.67,540.1L1920.38,543.2L1921.09,546.29L1921.82,549.37L1922.56,552.45L1923.32,555.52L1924.1,558.58L1924.9,561.63L1925.72,564.67L1926.57,567.69L1927.46,570.7L1928.38,573.68L1929.35,576.63L1930.38,579.56L1931.48,582.45L1932.65,585.31L1933.91,588.12L1935.28,590.86L1936.76,593.53L1938.39,596.11L1940.18,598.56L1942.17,600.86L1944.37,602.97L1946.79,604.87L1949.4,606.54L1952.16,608.04L1955.01,609.42L1957.92,610.68L1960.89,611.79L1963.91,612.76L1966.98,613.57L1970.1,614.22L1973.24,614.7L1976.42,615.01L1979.61,615.15L1982.81,615.1L1986.01,614.89L1989.19,614.5L1992.36,613.95L1995.5,613.25L1998.6,612.39L2001.67,611.4L2004.69,610.27L2007.67,609.03L2010.59,607.67L2011,607.47"/>
</g>
<path d="M1139.2,8.8H2011.5V656.45M1140.5,8.8v12.5M1227.6,8.8v6.5M1314.7,8.8v12.5M1401.8,8.8v6.5M1488.9,8.8v12.5M1576,8.8v6.5M1663.1,8.8v12.5M1750.2,8.8v6.5M1837.3,8.8v12.5M1924.4,8.8v6.5M2011.5,8.8v12.5M2011.5,655.15h-13.4M2011.5,590.51h-6.8M2011.5,525.88h-13.4M2011.5,461.24h-6.8M2011.5,396.61h-13.4M2011.5,331.97h-6.8M2011.5,267.34h-13.4M2011.5,202.7h-6.8M2011.5,138.07h-13.4M2011.5,73.43h-6.8M2011.5,8.8h-13.4" fill="none" stroke="#000" stroke-width="2.6"/>
<text transform="translate(1115.2,664.75) scale(1.1,1)" font-family="'Liberation Serif', serif" font-size="29.6" text-anchor="end">0</text>
<text transform="translate(1115.2,480.08) scale(1.1,1)" font-family="'Liberation Serif', serif" font-size="29.6" text-anchor="end">1</text>
<text transform="translate(1115.2,295.41) scale(1.1,1)" font-family="'Liberation Serif', serif" font-size="29.6" text-anchor="end">2</text>
<text transform="translate(1115.2,110.74) scale(1.1,1)" font-family="'Liberation Serif', serif" font-size="29.6" text-anchor="end">3</text>
<text transform="translate(1140.5,694.3) scale(1.1,1)" font-family="'Liberation Serif', serif" font-size="29.6" text-anchor="middle">0</text>
<text transform="translate(1285.67,694.3) scale(1.1,1)" font-family="'Liberation Serif', serif" font-size="29.6" text-anchor="middle">1</text>
<text transform="translate(1430.83,694.3) scale(1.1,1)" font-family="'Liberation Serif', serif" font-size="29.6" text-anchor="middle">2</text>
<text transform="translate(1576,694.3) scale(1.1,1)" font-family="'Liberation Serif', serif" font-size="29.6" text-anchor="middle">3</text>
<text transform="translate(1721.17,694.3) scale(1.1,1)" font-family="'Liberation Serif', serif" font-size="29.6" text-anchor="middle">4</text>
<text transform="translate(1866.33,694.3) scale(1.1,1)" font-family="'Liberation Serif', serif" font-size="29.6" text-anchor="middle">5</text>
<text transform="translate(2011.5,694.3) scale(1.1,1)" font-family="'Liberation Serif', serif" font-size="29.6" text-anchor="middle">6</text>
<text transform="translate(1423.5,741.5) scale(1.1455,1)" font-family="'Liberation Serif', serif" font-size="32.2" font-weight="bold">Photon energy (eV)</text>
<text transform="translate(1166,67) scale(1.16,1)" font-family="'Liberation Serif', serif" font-size="39">(b)</text>
<path d="M1185.5,408.5H1269.5" stroke="#000" stroke-width="5.4" fill="none"/>
<path d="M1185.5,456.75H1269.5" stroke="#FF0080" stroke-width="5.4" fill="none"/>
<text transform="translate(1269.3,419.75) scale(1.116,1)" font-family="'Liberation Serif', serif" font-size="33" font-weight="bold">Cs<tspan dy="9.24" font-size="23.76">2</tspan><tspan dy="-9.24">LiGaBr</tspan><tspan dy="9.24" font-size="23.76">6</tspan></text>
<text transform="translate(1269.3,467.75) scale(1.116,1)" font-family="'Liberation Serif', serif" font-size="33" font-weight="bold">Cs<tspan dy="9.24" font-size="23.76">2</tspan><tspan dy="-9.24">NaGaBr</tspan><tspan dy="9.24" font-size="23.76">6</tspan></text>
<text transform="translate(1049.25,353.25) rotate(-90) scale(0.8,1)" font-family="'Liberation Sans', sans-serif" font-size="37.1" font-weight="bold">ε<tspan dy="9" font-size="27" font-family="'Liberation Serif', serif" font-weight="normal">2</tspan><tspan dy="-9">(ϖ)</tspan></text>
</g>
<g id="panel-c">
<rect x="137.6" y="793.2" width="852.2" height="636.8" fill="#D6EDD6"/>
<path d="M137.6,791.9V1430H991.1M137.6,1430v13M208.62,1430v7.5M279.63,1430v13M350.65,1430v7.5M421.67,1430v13M492.68,1430v7.5M563.7,1430v13M634.72,1430v7.5M705.73,1430v13M776.75,1430v7.5M847.77,1430v13M918.78,1430v7.5M989.8,1430v13M137.6,1430h-13.4M137.6,1323.87h-6.8M137.6,1217.73h-13.4M137.6,1111.6h-6.8M137.6,1005.47h-13.4M137.6,899.33h-6.8M137.6,793.2h-13.4" fill="none" stroke="#000" stroke-width="2.6"/>
<g clip-path="url(#cp_c)" fill="none" stroke-width="4.9" stroke-linejoin="round" stroke-linecap="butt">
<path stroke="#000" d="M138.75,1123.57L141.95,1123.5L145.15,1123.42L148.35,1123.34L151.55,1123.26L154.75,1123.17L157.94,1123.07L161.14,1122.97L164.34,1122.87L167.54,1122.76L170.74,1122.64L173.93,1122.52L177.13,1122.39L180.33,1122.26L183.53,1122.12L186.72,1121.97L189.92,1121.81L193.12,1121.64L196.31,1121.47L199.51,1121.29L202.7,1121.09L205.89,1120.89L209.09,1120.68L212.28,1120.46L215.47,1120.23L218.66,1119.98L221.85,1119.73L225.04,1119.47L228.23,1119.19L231.42,1118.9L234.61,1118.6L237.79,1118.29L240.98,1117.96L244.16,1117.62L247.34,1117.27L250.52,1116.9L253.7,1116.52L256.87,1116.13L260.05,1115.72L263.22,1115.3L266.39,1114.86L269.56,1114.41L272.73,1113.94L275.89,1113.45L279.05,1112.95L282.21,1112.43L285.37,1111.9L288.52,1111.35L291.67,1110.78L294.82,1110.19L297.97,1109.59L301.11,1108.97L304.24,1108.33L307.38,1107.67L310.51,1106.99L313.63,1106.3L316.75,1105.58L319.87,1104.85L322.98,1104.1L326.09,1103.33L329.2,1102.54L332.29,1101.73L335.39,1100.9L338.48,1100.05L341.56,1099.18L344.64,1098.29L347.71,1097.37L350.77,1096.44L353.83,1095.49L356.88,1094.51L359.92,1093.5L362.95,1092.45L365.97,1091.37L368.98,1090.24L371.96,1089.06L374.93,1087.84L377.88,1086.56L380.8,1085.23L383.7,1083.84L386.58,1082.4L389.42,1080.89L392.23,1079.32L395.01,1077.7L397.75,1076.01L400.46,1074.26L403.13,1072.45L405.76,1070.59L408.35,1068.66L410.9,1066.68L413.4,1064.65L415.87,1062.58L418.31,1060.51L420.75,1058.45L423.2,1056.43L425.7,1054.49L428.25,1052.64L430.89,1050.94L433.63,1049.43L436.49,1048.12L439.45,1047.05L442.51,1046.23L445.63,1045.69L448.8,1045.42L452,1045.42L455.2,1045.67L458.38,1046.13L461.53,1046.76L464.65,1047.53L467.75,1048.39L470.82,1049.33L473.87,1050.3L476.92,1051.28L479.96,1052.26L483.01,1053.19L486.08,1054.05L489.18,1054.81L492.3,1055.49L495.43,1056.12L498.57,1056.73L501.71,1057.37L504.84,1058.08L507.95,1058.9L511.03,1059.86L514.05,1061L517.01,1062.33L519.89,1063.85L522.66,1065.59L525.31,1067.54L527.8,1069.71L530.14,1072.07L532.3,1074.59L534.31,1077.23L536.19,1079.93L537.97,1082.66L539.69,1085.42L541.36,1088.18L543,1090.95L544.62,1093.72L546.24,1096.47L547.86,1099.21L549.51,1101.92L551.18,1104.6L552.9,1107.23L554.69,1109.8L556.57,1112.27L558.56,1114.67L560.65,1116.98L562.86,1119.2L565.16,1121.34L567.54,1123.42L569.97,1125.46L572.44,1127.49L574.91,1129.56L577.35,1131.68L579.73,1133.9L582.03,1136.2L584.25,1138.56L586.43,1140.93L588.58,1143.3L590.74,1145.64L592.93,1147.92L595.17,1150.11L597.51,1152.18L599.97,1154.06L602.61,1155.61L605.5,1156.51L608.67,1156.19L611.7,1154.62L614.36,1152.64L616.87,1150.61L619.35,1148.61L621.85,1146.67L624.41,1144.84L627.07,1143.19L629.86,1141.79L632.77,1140.48L635.67,1139L638.44,1137.11L640.94,1134.77L643.11,1132.19L645.09,1129.55L646.95,1126.88L648.76,1124.22L650.56,1121.6L652.38,1119.01L654.25,1116.45L656.14,1113.9L658.08,1111.39L660.04,1108.89L662.03,1106.42L664.05,1103.96L666.1,1101.52L668.17,1099.1L670.25,1096.68L672.35,1094.28L674.45,1091.87L676.57,1089.47L678.68,1087.07L680.79,1084.65L682.89,1082.23L684.98,1079.79L687.06,1077.33L689.11,1074.86L691.14,1072.36L693.15,1069.84L695.12,1067.29L697.07,1064.71L698.98,1062.1L700.85,1059.47L702.69,1056.82L704.5,1054.14L706.27,1051.44L708,1048.71L709.71,1045.97L711.38,1043.2L713.02,1040.41L714.62,1037.61L716.2,1034.79L717.74,1031.95L719.26,1029.1L720.75,1026.23L722.21,1023.35L723.64,1020.46L725.05,1017.56L726.44,1014.65L727.81,1011.74L729.17,1008.83L730.51,1005.92L731.85,1003.01L733.19,1000.1L734.52,997.19L735.86,994.28L737.2,991.38L738.54,988.49L739.89,985.6L741.26,982.73L742.64,979.86L744.03,977.01L745.45,974.18L746.9,971.36L748.38,968.57L749.9,965.81L751.46,963.09L753.09,960.42L754.8,957.82L756.61,955.32L758.56,952.95L760.69,950.8L763.07,948.98L765.79,947.77L768.88,947.65L772.01,949.47L774.26,952.61L775.81,955.83L777.07,959.02L778.17,962.2L779.17,965.37L780.1,968.53L780.98,971.69L781.82,974.85L782.62,978L783.41,981.14L784.17,984.29L784.91,987.43L785.64,990.57L786.36,993.71L787.08,996.84L787.79,999.97L788.49,1003.1L789.2,1006.23L789.89,1009.35L790.59,1012.48L791.29,1015.61L791.98,1018.74L792.67,1021.87L793.35,1025L794.04,1028.13L794.72,1031.26L795.41,1034.39L796.09,1037.52L796.77,1040.65L797.45,1043.78L798.13,1046.91L798.8,1050.04L799.48,1053.17L800.16,1056.3L800.83,1059.42L801.51,1062.55L802.18,1065.68L802.86,1068.81L803.53,1071.94L804.21,1075.06L804.88,1078.19L805.56,1081.32L806.23,1084.44L806.91,1087.57L807.59,1090.69L808.27,1093.82L808.95,1096.95L809.63,1100.07L810.31,1103.2L810.99,1106.33L811.67,1109.46L812.34,1112.59L813.02,1115.72L813.69,1118.86L814.36,1121.99L815.03,1125.13L815.69,1128.27L816.36,1131.41L817.01,1134.55L817.67,1137.7L818.31,1140.84L818.96,1143.99L819.6,1147.14L820.23,1150.29L820.86,1153.44L821.48,1156.6L822.1,1159.75L822.71,1162.91L823.31,1166.07L823.91,1169.23L824.5,1172.39L825.09,1175.55L825.67,1178.72L826.24,1181.88L826.81,1185.05L827.37,1188.22L827.93,1191.42L828.49,1194.66L829.05,1197.94L829.61,1201.26L830.17,1204.62L830.73,1208.02L831.29,1211.44L831.85,1214.88L832.41,1218.33L832.97,1221.76L833.53,1225.16L834.09,1228.53L834.65,1231.85L835.21,1235.11L835.77,1238.3L836.33,1241.4L836.91,1244.5L837.51,1247.57L838.13,1250.63L838.79,1253.68L839.48,1256.71L840.21,1259.73L840.99,1262.72L841.82,1265.68L842.73,1268.6L843.73,1271.46L844.84,1274.25L846.11,1276.91L847.6,1279.38L849.46,1281.45L851.92,1282.59L855.1,1281.59L857.74,1279.15L859.86,1276.52L861.79,1273.87L863.64,1271.28L865.53,1268.8L867.54,1266.55L869.82,1264.77L872.62,1264.21L875.76,1266.11L878.05,1268.84L879.93,1271.64L881.64,1274.45L883.27,1277.23L884.88,1279.96L886.53,1282.6L888.28,1285.09L890.24,1287.3L892.57,1288.85L895.57,1288.61L898.39,1285.95L900.32,1282.91L901.85,1279.82L903.18,1276.7L904.37,1273.59L905.47,1270.49L906.51,1267.39L907.51,1264.3L908.49,1261.21L909.44,1258.14L910.38,1255.07L911.31,1252.01L912.25,1248.96L913.2,1245.93L914.16,1242.9L915.13,1239.88L916.12,1236.86L917.13,1233.86L918.15,1230.86L919.2,1227.87L920.27,1224.88L921.36,1221.91L922.47,1218.96L923.61,1216.01L924.78,1213.08L925.99,1210.17L927.23,1207.27L928.51,1204.38L929.82,1201.51L931.17,1198.64L932.54,1195.79L933.95,1192.94L935.37,1190.11L936.82,1187.27L938.28,1184.43L939.75,1181.59L941.22,1178.75L942.68,1175.9L944.15,1173.05L945.61,1170.21L947.07,1167.36L948.53,1164.51L949.99,1161.66L951.45,1158.81L952.92,1155.97L954.38,1153.12L955.84,1150.28L957.3,1147.43L958.76,1144.59L960.23,1141.75L961.7,1138.91L963.17,1136.07L964.65,1133.23L966.12,1130.4L967.61,1127.57L969.09,1124.74L970.58,1121.92L972.08,1119.1L973.58,1116.28L975.09,1113.46L976.61,1110.65L978.13,1107.85L979.66,1105.05L981.2,1102.25L982.75,1099.46L984.3,1096.68L985.87,1093.9L987.45,1091.13L989,1088.43"/>
<path stroke="#FF0080" d="M138.75,1105.6L141.95,1105.53L145.15,1105.46L148.35,1105.39L151.55,1105.31L154.75,1105.22L157.94,1105.12L161.14,1105.02L164.34,1104.91L167.54,1104.79L170.74,1104.66L173.93,1104.53L177.13,1104.39L180.33,1104.24L183.52,1104.08L186.72,1103.91L189.92,1103.73L193.11,1103.55L196.3,1103.35L199.5,1103.15L202.69,1102.93L205.88,1102.71L209.08,1102.47L212.27,1102.23L215.46,1101.97L218.65,1101.71L221.83,1101.43L225.02,1101.14L228.21,1100.84L231.39,1100.53L234.58,1100.21L237.76,1099.88L240.94,1099.53L244.12,1099.17L247.3,1098.8L250.48,1098.42L253.66,1098.03L256.83,1097.62L260.01,1097.2L263.18,1096.76L266.35,1096.31L269.51,1095.85L272.68,1095.38L275.84,1094.89L279,1094.39L282.16,1093.87L285.32,1093.34L288.47,1092.79L291.63,1092.24L294.78,1091.66L297.92,1091.07L301.07,1090.47L304.21,1089.85L307.35,1089.21L310.48,1088.56L313.61,1087.9L316.74,1087.22L319.87,1086.52L322.99,1085.81L326.11,1085.08L329.22,1084.34L332.33,1083.58L335.44,1082.8L338.54,1082.01L341.64,1081.2L344.73,1080.38L347.82,1079.53L350.91,1078.68L353.99,1077.8L357.06,1076.9L360.13,1075.97L363.19,1075.01L366.24,1074.02L369.27,1072.99L372.3,1071.91L375.3,1070.79L378.29,1069.62L381.26,1068.39L384.21,1067.11L387.13,1065.77L390.03,1064.38L392.9,1062.93L395.73,1061.41L398.54,1059.84L401.32,1058.2L404.05,1056.5L406.75,1054.74L409.42,1052.93L412.04,1051.05L414.63,1049.12L417.17,1047.15L419.68,1045.14L422.17,1043.11L424.64,1041.05L427.09,1038.99L429.54,1036.92L431.98,1034.86L434.43,1032.87L436.96,1031.04L439.62,1029.46L442.48,1028.31L445.54,1027.62L448.7,1027.37L451.9,1027.42L455.1,1027.71L458.27,1028.18L461.43,1028.81L464.55,1029.55L467.65,1030.38L470.73,1031.26L473.81,1032.17L476.87,1033.08L479.94,1033.97L483.02,1034.79L486.13,1035.54L489.25,1036.17L492.4,1036.69L495.56,1037.15L498.73,1037.59L501.9,1038.05L505.06,1038.57L508.21,1039.2L511.34,1039.97L514.42,1040.93L517.44,1042.09L520.39,1043.47L523.23,1045.08L525.96,1046.89L528.56,1048.9L531.02,1051.08L533.35,1053.4L535.55,1055.84L537.65,1058.36L539.65,1060.93L541.58,1063.55L543.45,1066.2L545.27,1068.88L547.05,1071.58L548.79,1074.29L550.51,1077.02L552.2,1079.76L553.87,1082.51L555.53,1085.25L557.18,1088L558.83,1090.72L560.5,1093.4L562.21,1096.04L563.99,1098.62L565.85,1101.1L567.84,1103.43L570.01,1105.57L572.4,1107.48L575.01,1109.11L577.82,1110.45L580.78,1111.51L583.83,1112.34L586.94,1112.98L590.1,1113.46L593.27,1113.82L596.45,1114.13L599.64,1114.44L602.82,1114.8L606,1115.28L609.15,1115.92L612.26,1116.77L615.32,1117.84L618.3,1119.06L621.25,1120.32L624.19,1121.54L627.16,1122.65L630.19,1123.55L633.29,1124.2L636.45,1124.56L639.65,1124.58L642.84,1124.24L646,1123.52L649.07,1122.44L652.03,1121.01L654.83,1119.31L657.49,1117.39L660.02,1115.31L662.45,1113.13L664.78,1110.87L667.05,1108.54L669.25,1106.17L671.4,1103.77L673.52,1101.34L675.61,1098.89L677.68,1096.43L679.73,1093.97L681.78,1091.52L683.83,1089.07L685.89,1086.63L687.96,1084.2L690.05,1081.8L692.15,1079.41L694.28,1077.04L696.43,1074.69L698.6,1072.37L700.8,1070.07L703.02,1067.8L705.28,1065.56L707.57,1063.36L709.9,1061.2L712.26,1059.09L714.67,1057.02L717.12,1055.02L719.62,1053.07L722.17,1051.19L724.77,1049.33L727.36,1047.41L729.91,1045.4L732.38,1043.25L734.72,1040.93L736.93,1038.47L739,1035.91L740.96,1033.27L742.81,1030.57L744.58,1027.82L746.28,1025.04L747.92,1022.23L749.5,1019.39L751.04,1016.52L752.53,1013.64L753.98,1010.75L755.4,1007.84L756.78,1004.91L758.14,1001.98L759.47,999.04L760.77,996.09L762.06,993.13L763.32,990.17L764.57,987.21L765.82,984.25L767.05,981.29L768.28,978.33L769.51,975.38L770.73,972.43L771.96,969.48L773.2,966.54L774.45,963.61L775.7,960.68L776.98,957.77L778.27,954.87L779.58,951.99L780.92,949.13L782.3,946.29L783.71,943.48L785.18,940.74L786.74,938.09L788.44,935.62L790.39,933.44L792.75,931.96L795.79,932.35L798.49,935.59L800.04,938.98L801.2,942.24L802.2,945.46L803.11,948.66L803.96,951.83L804.76,955L805.53,958.16L806.27,961.31L807.01,964.45L807.73,967.58L808.45,970.7L809.16,973.81L809.88,976.91L810.61,980.01L811.35,983.09L812.1,986.18L812.86,989.26L813.64,992.33L814.43,995.41L815.23,998.48L816.05,1001.54L816.88,1004.6L817.73,1007.65L818.59,1010.7L819.47,1013.74L820.37,1016.78L821.29,1019.81L822.23,1022.83L823.19,1025.85L824.17,1028.86L825.17,1031.86L826.2,1034.84L827.25,1037.82L828.33,1040.79L829.44,1043.75L830.58,1046.69L831.75,1049.62L832.96,1052.54L834.19,1055.45L835.46,1058.34L836.76,1061.22L838.1,1064.08L839.48,1066.92L840.89,1069.75L842.33,1072.56L843.81,1075.36L845.33,1078.14L846.87,1080.9L848.45,1083.65L850.05,1086.39L851.68,1089.12L853.33,1091.85L855,1094.56L856.68,1097.27L858.37,1099.98L860.07,1102.68L861.78,1105.38L863.49,1108.08L865.2,1110.79L866.91,1113.5L868.61,1116.25L870.28,1119.03L871.9,1121.86L873.46,1124.73L874.96,1127.64L876.38,1130.59L877.74,1133.58L879.03,1136.59L880.27,1139.58L881.48,1142.58L882.67,1145.55L883.85,1148.52L885.05,1151.46L886.26,1154.38L887.51,1157.27L888.8,1160.13L890.14,1162.96L891.55,1165.73L893.04,1168.44L894.64,1171.05L896.39,1173.51L898.37,1175.72L900.68,1177.48L903.47,1178.28L906.67,1177.47L909.54,1175.56L912.03,1173.32L914.32,1170.99L916.53,1168.69L918.77,1166.5L921.12,1164.53L923.7,1163.02L926.65,1162.47L929.84,1163.68L932.48,1166.06L934.63,1168.74L936.51,1171.53L938.21,1174.37L939.82,1177.14L941.45,1179.77L943.2,1182.14L945.31,1183.84L948.26,1183.23L950.72,1180.1L952.36,1176.98L953.73,1173.88L954.96,1170.79L956.1,1167.7L957.17,1164.61L958.21,1161.52L959.21,1158.44L960.18,1155.36L961.14,1152.29L962.09,1149.22L963.03,1146.15L963.97,1143.08L964.9,1140L965.82,1136.93L966.74,1133.86L967.65,1130.78L968.56,1127.7L969.46,1124.63L970.36,1121.55L971.26,1118.47L972.15,1115.39L973.04,1112.31L973.92,1109.23L974.81,1106.15L975.69,1103.07L976.57,1099.99L977.44,1096.91L978.32,1093.83L979.19,1090.75L980.07,1087.66L980.94,1084.58L981.81,1081.5L982.68,1078.42L983.54,1075.34L984.41,1072.26L985.28,1069.18L986.15,1066.1L987.02,1063.02L987.89,1059.95L988.76,1056.87L989,1056.03"/>
</g>
<path d="M136.3,793.2H989.8V1431.3M137.6,793.2v12.5M222.82,793.2v6.5M308.04,793.2v12.5M393.26,793.2v6.5M478.48,793.2v12.5M563.7,793.2v6.5M648.92,793.2v12.5M734.14,793.2v6.5M819.36,793.2v12.5M904.58,793.2v6.5M989.8,793.2v12.5M989.8,1430h-13.4M989.8,1323.87h-6.8M989.8,1217.73h-13.4M989.8,1111.6h-6.8M989.8,1005.47h-13.4M989.8,899.33h-6.8M989.8,793.2h-13.4" fill="none" stroke="#000" stroke-width="2.6"/>
<text transform="translate(115.6,1439.3) scale(1.082,1)" font-family="'Liberation Serif', serif" font-size="30.4" text-anchor="end">1.0</text>
<text transform="translate(115.6,1227.03) scale(1.082,1)" font-family="'Liberation Serif', serif" font-size="30.4" text-anchor="end">1.5</text>
<text transform="translate(115.6,1014.77) scale(1.082,1)" font-family="'Liberation Serif', serif" font-size="30.4" text-anchor="end">2.0</text>
<text transform="translate(115.6,802.5) scale(1.082,1)" font-family="'Liberation Serif', serif" font-size="30.4" text-anchor="end">2.5</text>
<text transform="translate(137.6,1474.3) scale(1.082,1)" font-family="'Liberation Serif', serif" font-size="30.4" text-anchor="middle">0</text>
<text transform="translate(279.63,1474.3) scale(1.082,1)" font-family="'Liberation Serif', serif" font-size="30.4" text-anchor="middle">1</text>
<text transform="translate(421.67,1474.3) scale(1.082,1)" font-family="'Liberation Serif', serif" font-size="30.4" text-anchor="middle">2</text>
<text transform="translate(563.7,1474.3) scale(1.082,1)" font-family="'Liberation Serif', serif" font-size="30.4" text-anchor="middle">3</text>
<text transform="translate(705.73,1474.3) scale(1.082,1)" font-family="'Liberation Serif', serif" font-size="30.4" text-anchor="middle">4</text>
<text transform="translate(847.77,1474.3) scale(1.082,1)" font-family="'Liberation Serif', serif" font-size="30.4" text-anchor="middle">5</text>
<text transform="translate(989.8,1474.3) scale(1.082,1)" font-family="'Liberation Serif', serif" font-size="30.4" text-anchor="middle">6</text>
<text transform="translate(416.6,1527.5) scale(1.1455,1)" font-family="'Liberation Serif', serif" font-size="31" font-weight="bold">Photon energy (eV)</text>
<text transform="translate(178,861) scale(1.09,1)" font-family="'Liberation Serif', serif" font-size="39.4">(c)</text>
<path d="M257,1233.25H338" stroke="#000" stroke-width="5" fill="none"/>
<path d="M257,1282H338" stroke="#FF0080" stroke-width="5" fill="none"/>
<text transform="translate(347.2,1245) scale(1.105,1)" font-family="'Liberation Serif', serif" font-size="32" font-weight="bold">Cs<tspan dy="8.96" font-size="23.04">2</tspan><tspan dy="-8.96">LiGaBr</tspan><tspan dy="8.96" font-size="23.04">6</tspan></text>
<text transform="translate(347.2,1293.75) scale(1.105,1)" font-family="'Liberation Serif', serif" font-size="32" font-weight="bold">Cs<tspan dy="8.96" font-size="23.04">2</tspan><tspan dy="-8.96">NaGaBr</tspan><tspan dy="8.96" font-size="23.04">6</tspan></text>
<text transform="translate(35,1217) rotate(-90) scale(0.929,1)" font-family="'Liberation Serif', serif" font-size="35.8" font-weight="bold">Refractive index</text>
</g>
<g id="panel-d">
<rect x="1177.9" y="804.2" width="833.7" height="623.2" fill="#C6D6ED"/>
<path d="M1177.9,802.9V1427.4H2012.9M1177.9,1427.4v15M1247.38,1427.4v7.5M1316.85,1427.4v15M1386.33,1427.4v7.5M1455.8,1427.4v15M1525.28,1427.4v7.5M1594.75,1427.4v15M1664.22,1427.4v7.5M1733.7,1427.4v15M1803.17,1427.4v7.5M1872.65,1427.4v15M1942.12,1427.4v7.5M2011.6,1427.4v15M1177.9,1427.4h-13.4M1177.9,1365.08h-6.8M1177.9,1302.76h-13.4M1177.9,1240.44h-6.8M1177.9,1178.12h-13.4M1177.9,1115.8h-6.8M1177.9,1053.48h-13.4M1177.9,991.16h-6.8M1177.9,928.84h-13.4M1177.9,866.52h-6.8M1177.9,804.2h-13.4" fill="none" stroke="#000" stroke-width="2.6"/>
<g clip-path="url(#cp_d)" fill="none" stroke-width="4.9" stroke-linejoin="round" stroke-linecap="butt">
<path stroke="#000" d="M1187.5,1426.6L1190.7,1426.6L1193.9,1426.59L1197.1,1426.59L1200.3,1426.58L1203.5,1426.58L1206.7,1426.57L1209.9,1426.57L1213.1,1426.56L1216.3,1426.56L1219.5,1426.55L1222.7,1426.54L1225.9,1426.54L1229.1,1426.53L1232.3,1426.52L1235.5,1426.51L1238.7,1426.5L1241.9,1426.49L1245.1,1426.48L1248.3,1426.47L1251.5,1426.46L1254.7,1426.45L1257.9,1426.43L1261.1,1426.42L1264.3,1426.41L1267.5,1426.39L1270.7,1426.38L1273.9,1426.36L1277.1,1426.35L1280.3,1426.33L1283.5,1426.31L1286.7,1426.29L1289.9,1426.28L1293.1,1426.26L1296.3,1426.24L1299.5,1426.21L1302.7,1426.19L1305.9,1426.17L1309.1,1426.15L1312.3,1426.12L1315.5,1426.1L1318.7,1426.07L1321.9,1426.05L1325.1,1426.02L1328.3,1425.99L1331.5,1425.96L1334.7,1425.94L1337.9,1425.91L1341.1,1425.87L1344.3,1425.84L1347.5,1425.81L1350.7,1425.78L1353.9,1425.74L1357.1,1425.71L1360.3,1425.67L1363.5,1425.63L1366.7,1425.59L1369.9,1425.55L1373.1,1425.51L1376.3,1425.47L1379.5,1425.43L1382.7,1425.39L1385.89,1425.34L1389.09,1425.3L1392.29,1425.25L1395.49,1425.2L1398.69,1425.16L1401.89,1425.11L1405.09,1425.06L1408.29,1425L1411.49,1424.95L1414.69,1424.9L1417.89,1424.84L1421.09,1424.79L1424.29,1424.73L1427.49,1424.65L1430.69,1424.55L1433.89,1424.41L1437.08,1424.23L1440.28,1423.99L1443.46,1423.69L1446.65,1423.31L1449.82,1422.85L1452.98,1422.29L1456.12,1421.63L1459.24,1420.83L1462.32,1419.86L1465.34,1418.69L1468.28,1417.3L1471.12,1415.68L1473.84,1413.86L1476.43,1411.84L1478.9,1409.7L1481.26,1407.47L1483.56,1405.19L1485.81,1402.89L1488.04,1400.58L1490.26,1398.3L1492.5,1396.04L1494.77,1393.84L1497.1,1391.69L1499.47,1389.6L1501.9,1387.55L1504.37,1385.56L1506.88,1383.61L1509.42,1381.71L1512.01,1379.85L1514.62,1378.03L1517.25,1376.23L1519.9,1374.46L1522.57,1372.7L1525.24,1370.94L1527.92,1369.18L1530.59,1367.41L1533.25,1365.62L1535.9,1363.8L1538.53,1361.95L1541.13,1360.05L1543.7,1358.11L1546.23,1356.12L1548.73,1354.08L1551.19,1351.98L1553.6,1349.83L1555.96,1347.63L1558.28,1345.38L1560.55,1343.07L1562.77,1340.71L1564.94,1338.31L1567.05,1335.86L1569.13,1333.4L1571.18,1330.92L1573.21,1328.45L1575.25,1326L1577.3,1323.56L1579.38,1321.17L1581.5,1318.83L1583.68,1316.56L1585.93,1314.39L1588.29,1312.36L1590.79,1310.52L1593.45,1308.96L1596.31,1307.82L1599.38,1307.28L1602.58,1307.48L1605.73,1308.32L1608.75,1309.59L1611.63,1311.12L1614.41,1312.8L1617.12,1314.54L1619.8,1316.28L1622.49,1317.97L1625.23,1319.54L1628.05,1320.91L1630.98,1322.04L1634.01,1322.95L1637.11,1323.64L1640.25,1324.16L1643.42,1324.53L1646.61,1324.82L1649.79,1325.07L1652.98,1325.34L1656.17,1325.72L1659.34,1326.3L1662.46,1327.14L1665.5,1328.32L1668.42,1329.84L1671.17,1331.69L1673.73,1333.76L1676.15,1335.96L1678.48,1338.22L1680.74,1340.51L1682.98,1342.8L1685.22,1345.07L1687.49,1347.28L1689.81,1349.42L1692.18,1351.52L1694.61,1353.56L1697.08,1355.55L1699.59,1357.49L1702.14,1359.4L1704.71,1361.28L1707.31,1363.11L1709.95,1364.87L1712.64,1366.52L1715.4,1368.02L1718.26,1369.33L1721.22,1370.38L1724.29,1371.06L1727.46,1371.31L1730.66,1371.1L1733.83,1370.5L1736.94,1369.6L1739.98,1368.47L1742.94,1367.18L1745.85,1365.78L1748.71,1364.32L1751.55,1362.83L1754.38,1361.36L1757.23,1359.92L1760.1,1358.56L1763.01,1357.32L1765.99,1356.24L1769.03,1355.38L1772.14,1354.68L1775.27,1354.04L1778.4,1353.35L1781.51,1352.49L1784.57,1351.37L1787.51,1349.92L1790.3,1348.13L1792.89,1346.03L1795.27,1343.67L1797.43,1341.11L1799.4,1338.41L1801.21,1335.59L1802.86,1332.68L1804.36,1329.7L1805.75,1326.67L1807.03,1323.6L1808.21,1320.5L1809.31,1317.39L1810.34,1314.25L1811.32,1311.1L1812.23,1307.95L1813.1,1304.78L1813.93,1301.61L1814.71,1298.43L1815.47,1295.25L1816.19,1292.07L1816.88,1288.88L1817.55,1285.69L1818.2,1282.51L1818.82,1279.32L1819.43,1276.13L1820.02,1272.95L1820.6,1269.76L1821.16,1266.58L1821.72,1263.34L1822.28,1260.04L1822.84,1256.67L1823.4,1253.23L1823.96,1249.74L1824.52,1246.18L1825.08,1242.56L1825.64,1238.88L1826.2,1235.15L1826.76,1231.36L1827.32,1227.52L1827.88,1223.62L1828.44,1219.68L1829,1215.68L1829.56,1211.64L1830.12,1207.55L1830.68,1203.42L1831.24,1199.25L1831.8,1195.04L1832.36,1190.78L1832.92,1186.49L1833.48,1182.17L1834.04,1177.8L1834.6,1173.41L1835.16,1168.99L1835.72,1164.53L1836.28,1160.05L1836.84,1155.54L1837.4,1151L1837.96,1146.46L1838.52,1141.91L1839.08,1137.38L1839.64,1132.87L1840.2,1128.41L1840.76,1124.01L1841.32,1119.68L1841.88,1115.43L1842.44,1111.28L1843,1107.25L1843.56,1103.35L1844.12,1099.6L1844.68,1096L1845.24,1092.57L1845.8,1089.33L1846.36,1086.28L1846.96,1083.26L1847.61,1080.27L1848.32,1077.3L1849.1,1074.36L1849.96,1071.46L1850.93,1068.61L1852.02,1065.81L1853.26,1063.08L1854.66,1060.44L1856.27,1057.95L1858.16,1055.71L1860.4,1053.83L1863.05,1052.5L1866.08,1051.84L1869.26,1051.74L1872.45,1052.07L1875.61,1052.72L1878.72,1053.58L1881.78,1054.57L1884.82,1055.58L1887.85,1056.56L1890.92,1057.41L1894.02,1058.15L1897.14,1058.83L1900.27,1059.49L1903.4,1060.21L1906.51,1061.02L1909.58,1062L1912.6,1063.18L1915.53,1064.78L1918.17,1067.05L1920.36,1069.83L1922.15,1072.86L1923.63,1075.99L1924.89,1079.17L1926,1082.37L1927,1085.55L1927.92,1088.72L1928.79,1091.87L1929.62,1095.03L1930.42,1098.17L1931.2,1101.31L1931.96,1104.44L1932.71,1107.57L1933.46,1110.7L1934.2,1113.82L1934.94,1116.93L1935.67,1120.05L1936.41,1123.16L1937.15,1126.26L1937.89,1129.36L1938.64,1132.45L1939.4,1135.53L1940.18,1138.6L1940.97,1141.66L1941.78,1144.71L1942.61,1147.74L1943.48,1150.75L1944.38,1153.74L1945.33,1156.7L1946.34,1159.63L1947.42,1162.52L1948.58,1165.35L1949.85,1168.1L1951.27,1170.75L1952.89,1173.2L1954.82,1175.33L1957.22,1176.78L1960.25,1176.98L1963.4,1175.9L1966.37,1175.4L1969.5,1177.91L1971.33,1181.28L1972.63,1184.61L1973.68,1187.91L1974.57,1191.2L1975.36,1194.47L1976.08,1197.74L1976.74,1201L1977.35,1204.24L1977.92,1207.48L1978.48,1210.78L1979.04,1214.21L1979.6,1217.76L1980.16,1221.41L1980.72,1225.14L1981.28,1228.95L1981.84,1232.8L1982.4,1236.69L1982.96,1240.6L1983.52,1244.52L1984.08,1248.43L1984.64,1252.32L1985.2,1256.16L1985.76,1259.94L1986.32,1263.65L1986.88,1267.28L1987.44,1270.8L1988,1274.2L1988.56,1277.47L1989.12,1280.62L1989.69,1283.7L1990.28,1286.78L1990.9,1289.85L1991.55,1292.9L1992.23,1295.95L1992.95,1298.98L1993.7,1301.99L1994.51,1304.98L1995.36,1307.95L1996.28,1310.89L1997.28,1313.79L1998.37,1316.63L1999.57,1319.41L2000.91,1322.1L2002.44,1324.64L2004.22,1326.98L2006.32,1329L2008.85,1330.5L2011.5,1331.23"/>
<path stroke="#FF0080" d="M1187.5,1426.3L1190.7,1426.29L1193.9,1426.29L1197.1,1426.28L1200.3,1426.28L1203.5,1426.27L1206.7,1426.27L1209.9,1426.26L1213.1,1426.25L1216.3,1426.25L1219.5,1426.24L1222.7,1426.23L1225.9,1426.22L1229.1,1426.21L1232.3,1426.2L1235.5,1426.19L1238.7,1426.18L1241.9,1426.17L1245.1,1426.16L1248.3,1426.14L1251.5,1426.13L1254.7,1426.11L1257.9,1426.1L1261.1,1426.08L1264.3,1426.07L1267.5,1426.05L1270.7,1426.03L1273.9,1426.01L1277.1,1425.99L1280.3,1425.97L1283.5,1425.95L1286.7,1425.92L1289.9,1425.9L1293.1,1425.88L1296.3,1425.85L1299.5,1425.83L1302.7,1425.8L1305.9,1425.77L1309.1,1425.74L1312.3,1425.71L1315.5,1425.68L1318.7,1425.65L1321.9,1425.61L1325.1,1425.58L1328.3,1425.54L1331.5,1425.51L1334.7,1425.47L1337.9,1425.43L1341.1,1425.39L1344.3,1425.35L1347.5,1425.31L1350.7,1425.26L1353.9,1425.22L1357.1,1425.17L1360.29,1425.12L1363.49,1425.08L1366.69,1425.03L1369.89,1424.97L1373.09,1424.92L1376.29,1424.87L1379.49,1424.81L1382.69,1424.76L1385.89,1424.7L1389.09,1424.64L1392.29,1424.58L1395.49,1424.52L1398.69,1424.45L1401.89,1424.39L1405.09,1424.32L1408.29,1424.25L1411.49,1424.18L1414.69,1424.11L1417.88,1424.04L1421.08,1423.96L1424.28,1423.88L1427.48,1423.77L1430.68,1423.63L1433.87,1423.43L1437.07,1423.15L1440.25,1422.79L1443.42,1422.33L1446.58,1421.75L1449.72,1421.05L1452.82,1420.2L1455.89,1419.21L1458.91,1418.06L1461.87,1416.73L1464.75,1415.23L1467.54,1413.55L1470.23,1411.7L1472.81,1409.69L1475.28,1407.57L1477.67,1405.38L1480,1403.14L1482.3,1400.89L1484.57,1398.63L1486.83,1396.38L1489.11,1394.16L1491.42,1391.99L1493.78,1389.86L1496.18,1387.79L1498.62,1385.76L1501.1,1383.78L1503.61,1381.83L1506.16,1379.93L1508.74,1378.07L1511.35,1376.23L1513.97,1374.42L1516.62,1372.64L1519.28,1370.86L1521.94,1369.1L1524.61,1367.34L1527.28,1365.57L1529.95,1363.79L1532.6,1361.99L1535.25,1360.17L1537.87,1358.31L1540.47,1356.42L1543.04,1354.47L1545.57,1352.47L1548.06,1350.41L1550.5,1348.28L1552.88,1346.08L1555.2,1343.82L1557.46,1341.49L1559.66,1339.09L1561.79,1336.63L1563.85,1334.13L1565.86,1331.61L1567.84,1329.08L1569.81,1326.57L1571.8,1324.08L1573.81,1321.64L1575.86,1319.26L1578,1316.97L1580.23,1314.81L1582.61,1312.84L1585.16,1311.09L1587.89,1309.65L1590.81,1308.59L1593.89,1308.01L1597.08,1307.96L1600.27,1308.35L1603.43,1309.01L1606.54,1309.81L1609.63,1310.62L1612.73,1311.33L1615.87,1311.84L1619.04,1312.29L1622.2,1312.91L1625.31,1313.9L1628.27,1315.44L1630.96,1317.55L1633.3,1320.02L1635.38,1322.66L1637.26,1325.41L1639.01,1328.2L1640.67,1330.99L1642.28,1333.78L1643.87,1336.55L1645.48,1339.28L1647.12,1341.96L1648.83,1344.55L1650.66,1347L1652.66,1349.3L1654.86,1351.43L1657.26,1353.38L1659.82,1355.16L1662.5,1356.85L1665.22,1358.55L1667.91,1360.38L1670.5,1362.41L1672.96,1364.54L1675.34,1366.72L1677.69,1368.9L1680.03,1371.05L1682.41,1373.12L1684.86,1375.07L1687.43,1376.81L1690.17,1378.24L1693.1,1379.27L1696.19,1379.83L1699.38,1379.91L1702.57,1379.55L1705.73,1378.89L1708.83,1378.01L1711.89,1377.02L1714.93,1376.01L1717.97,1375.05L1721.03,1374.15L1724.11,1373.27L1727.18,1372.37L1730.24,1371.38L1733.27,1370.29L1736.26,1369.03L1739.17,1367.6L1741.99,1365.97L1744.71,1364.14L1747.3,1362.13L1749.76,1359.94L1752.09,1357.61L1754.28,1355.15L1756.35,1352.59L1758.3,1349.93L1760.14,1347.2L1761.88,1344.41L1763.52,1341.57L1765.08,1338.68L1766.56,1335.75L1767.97,1332.79L1769.32,1329.81L1770.61,1326.8L1771.84,1323.78L1773.02,1320.74L1774.16,1317.68L1775.26,1314.62L1776.32,1311.54L1777.34,1308.45L1778.33,1305.35L1779.29,1302.25L1780.22,1299.14L1781.12,1296.02L1782,1292.9L1782.85,1289.77L1783.68,1286.64L1784.5,1283.5L1785.29,1280.35L1786.06,1277.2L1786.81,1274.04L1787.53,1270.88L1788.24,1267.7L1788.92,1264.53L1789.59,1261.34L1790.23,1258.16L1790.85,1254.97L1791.45,1251.78L1792.04,1248.58L1792.61,1245.38L1793.17,1242.14L1793.73,1238.79L1794.29,1235.34L1794.85,1231.78L1795.41,1228.11L1795.97,1224.33L1796.53,1220.42L1797.09,1216.4L1797.65,1212.26L1798.21,1208.03L1798.77,1203.69L1799.33,1199.28L1799.89,1194.78L1800.45,1190.23L1801.01,1185.61L1801.57,1180.95L1802.13,1176.25L1802.69,1171.52L1803.25,1166.77L1803.81,1162.01L1804.37,1157.25L1804.93,1152.5L1805.49,1147.76L1806.05,1143.04L1806.61,1138.33L1807.17,1133.65L1807.73,1128.99L1808.29,1124.35L1808.85,1119.75L1809.41,1115.18L1809.97,1110.64L1810.53,1106.14L1811.09,1101.68L1811.65,1097.26L1812.21,1092.89L1812.77,1088.57L1813.33,1084.3L1813.89,1080.08L1814.45,1075.93L1815.01,1071.83L1815.57,1067.79L1816.13,1063.82L1816.69,1059.92L1817.25,1056.08L1817.81,1052.33L1818.37,1048.64L1818.93,1045.04L1819.49,1041.52L1820.05,1038.08L1820.61,1034.72L1821.17,1031.44L1821.73,1028.25L1822.29,1025.13L1822.86,1022.02L1823.45,1018.92L1824.05,1015.82L1824.68,1012.73L1825.32,1009.65L1825.98,1006.57L1826.66,1003.5L1827.37,1000.44L1828.1,997.39L1828.86,994.35L1829.66,991.33L1830.5,988.32L1831.37,985.33L1832.3,982.37L1833.29,979.43L1834.34,976.53L1835.47,973.67L1836.7,970.83L1838.01,968.02L1839.39,965.22L1840.84,962.4L1842.32,959.55L1843.78,956.65L1845.19,953.7L1846.55,950.78L1847.89,947.9L1849.26,945.08L1850.69,942.36L1852.26,939.8L1854.06,937.57L1856.34,936.19L1859.48,937.64L1861.6,941.01L1863.01,944.32L1864.13,947.59L1865.09,950.86L1865.94,954.11L1866.72,957.35L1867.44,960.59L1868.1,963.82L1868.73,967.04L1869.33,970.26L1869.9,973.47L1870.46,976.74L1871.02,980.11L1871.58,983.58L1872.14,987.14L1872.7,990.78L1873.26,994.5L1873.82,998.28L1874.38,1002.12L1874.94,1006.01L1875.5,1009.94L1876.06,1013.9L1876.62,1017.89L1877.18,1021.89L1877.74,1025.9L1878.3,1029.92L1878.86,1033.93L1879.42,1037.93L1879.98,1041.92L1880.54,1045.9L1881.1,1049.87L1881.66,1053.81L1882.22,1057.73L1882.78,1061.62L1883.34,1065.48L1883.9,1069.31L1884.46,1073.1L1885.02,1076.85L1885.58,1080.56L1886.14,1084.22L1886.7,1087.83L1887.26,1091.38L1887.82,1094.88L1888.38,1098.31L1888.94,1101.68L1889.5,1104.99L1890.06,1108.22L1890.62,1111.38L1891.18,1114.49L1891.76,1117.59L1892.36,1120.68L1892.98,1123.77L1893.61,1126.85L1894.27,1129.91L1894.96,1132.96L1895.68,1135.99L1896.45,1138.99L1897.26,1141.97L1898.14,1144.92L1899.09,1147.83L1900.13,1150.7L1901.27,1153.52L1902.53,1156.28L1903.94,1158.95L1905.51,1161.53L1907.28,1164L1909.22,1166.47L1911.2,1169.11L1913.03,1172.03L1914.6,1175.14L1915.91,1178.36L1917.03,1181.62L1917.99,1184.89L1918.84,1188.16L1919.6,1191.44L1920.3,1194.71L1920.93,1197.96L1921.52,1201.21L1922.08,1204.45L1922.64,1207.84L1923.2,1211.37L1923.76,1215.03L1924.32,1218.79L1924.88,1222.65L1925.44,1226.59L1926,1230.6L1926.56,1234.66L1927.12,1238.75L1927.68,1242.88L1928.24,1247.01L1928.8,1251.14L1929.36,1255.25L1929.92,1259.33L1930.48,1263.37L1931.04,1267.34L1931.6,1271.24L1932.16,1275.06L1932.72,1278.77L1933.28,1282.37L1933.84,1285.85L1934.4,1289.22L1934.96,1292.49L1935.52,1295.64L1936.09,1298.74L1936.68,1301.83L1937.28,1304.91L1937.91,1307.99L1938.57,1311.06L1939.25,1314.12L1939.95,1317.18L1940.69,1320.22L1941.46,1323.25L1942.27,1326.27L1943.11,1329.28L1944,1332.27L1944.93,1335.24L1945.91,1338.2L1946.95,1341.14L1948.04,1344.05L1949.2,1346.93L1950.44,1349.77L1951.76,1352.56L1953.17,1355.3L1954.69,1357.98L1956.34,1360.57L1958.12,1363.06L1960.07,1365.43L1962.19,1367.65L1964.49,1369.7L1966.96,1371.57L1969.59,1373.28L1972.32,1374.83L1975.15,1376.22L1978.06,1377.41L1981.07,1378.4L1984.14,1379.16L1987.27,1379.69L1990.45,1379.97L1993.64,1380L1996.84,1379.8L2000.03,1379.36L2003.18,1378.71L2006.29,1377.86L2009.35,1376.83L2011.5,1376"/>
</g>
<path d="M1176.6,804.2H2011.6V1428.7M1177.9,804.2v12.5M1261.27,804.2v6.5M1344.64,804.2v12.5M1428.01,804.2v6.5M1511.38,804.2v12.5M1594.75,804.2v6.5M1678.12,804.2v12.5M1761.49,804.2v6.5M1844.86,804.2v12.5M1928.23,804.2v6.5M2011.6,804.2v12.5M2011.6,1427.4h-13.4M2011.6,1365.08h-6.8M2011.6,1302.76h-13.4M2011.6,1240.44h-6.8M2011.6,1178.12h-13.4M2011.6,1115.8h-6.8M2011.6,1053.48h-13.4M2011.6,991.16h-6.8M2011.6,928.84h-13.4M2011.6,866.52h-6.8M2011.6,804.2h-13.4" fill="none" stroke="#000" stroke-width="2.6"/>
<text transform="translate(1156.5,1436) scale(1.06,1)" font-family="'Liberation Serif', serif" font-size="30.4" text-anchor="end">0</text>
<text transform="translate(1156.5,1311.36) scale(1.06,1)" font-family="'Liberation Serif', serif" font-size="30.4" text-anchor="end">10</text>
<text transform="translate(1156.5,1186.72) scale(1.06,1)" font-family="'Liberation Serif', serif" font-size="30.4" text-anchor="end">20</text>
<text transform="translate(1156.5,1062.08) scale(1.06,1)" font-family="'Liberation Serif', serif" font-size="30.4" text-anchor="end">30</text>
<text transform="translate(1156.5,937.44) scale(1.06,1)" font-family="'Liberation Serif', serif" font-size="30.4" text-anchor="end">40</text>
<text transform="translate(1156.5,812.8) scale(1.06,1)" font-family="'Liberation Serif', serif" font-size="30.4" text-anchor="end">50</text>
<text transform="translate(1177.9,1476.5) scale(1.06,1)" font-family="'Liberation Serif', serif" font-size="30.4" text-anchor="middle">0</text>
<text transform="translate(1316.85,1476.5) scale(1.06,1)" font-family="'Liberation Serif', serif" font-size="30.4" text-anchor="middle">1</text>
<text transform="translate(1455.8,1476.5) scale(1.06,1)" font-family="'Liberation Serif', serif" font-size="30.4" text-anchor="middle">2</text>
<text transform="translate(1594.75,1476.5) scale(1.06,1)" font-family="'Liberation Serif', serif" font-size="30.4" text-anchor="middle">3</text>
<text transform="translate(1733.7,1476.5) scale(1.06,1)" font-family="'Liberation Serif', serif" font-size="30.4" text-anchor="middle">4</text>
<text transform="translate(1872.65,1476.5) scale(1.06,1)" font-family="'Liberation Serif', serif" font-size="30.4" text-anchor="middle">5</text>
<text transform="translate(2011.6,1476.5) scale(1.06,1)" font-family="'Liberation Serif', serif" font-size="30.4" text-anchor="middle">6</text>
<text transform="translate(1451,1529.75) scale(1.1455,1)" font-family="'Liberation Serif', serif" font-size="30.4" font-weight="bold">Photon energy (eV)</text>
<text transform="translate(1214,873) scale(1.05,1)" font-family="'Liberation Serif', serif" font-size="37.8">(d)</text>
<path d="M1218,1252.5H1297" stroke="#000" stroke-width="5.2" fill="none"/>
<path d="M1218,1300.5H1297" stroke="#FF0080" stroke-width="5.2" fill="none"/>
<text transform="translate(1298,1263.75) scale(1.12,1)" font-family="'Liberation Serif', serif" font-size="31.2" font-weight="bold">Cs<tspan dy="8.74" font-size="22.46">2</tspan><tspan dy="-8.74">LiGaBr</tspan><tspan dy="8.74" font-size="22.46">6</tspan></text>
<text transform="translate(1298,1311.75) scale(1.12,1)" font-family="'Liberation Serif', serif" font-size="31.2" font-weight="bold">Cs<tspan dy="8.74" font-size="22.46">2</tspan><tspan dy="-8.74">NaGaBr</tspan><tspan dy="8.74" font-size="22.46">6</tspan></text>
<text transform="translate(1085,1190) rotate(-90) scale(0.893,1)" font-family="'Liberation Serif', serif" font-size="36" font-weight="bold">α(<tspan font-family="'Liberation Sans', sans-serif">ϖ</tspan>)×10<tspan dy="-13.5" font-size="24">4</tspan><tspan dy="13.5">cm</tspan><tspan dy="-13.5" font-size="24">-1</tspan></text>
</g>
</svg>
</body></html>
